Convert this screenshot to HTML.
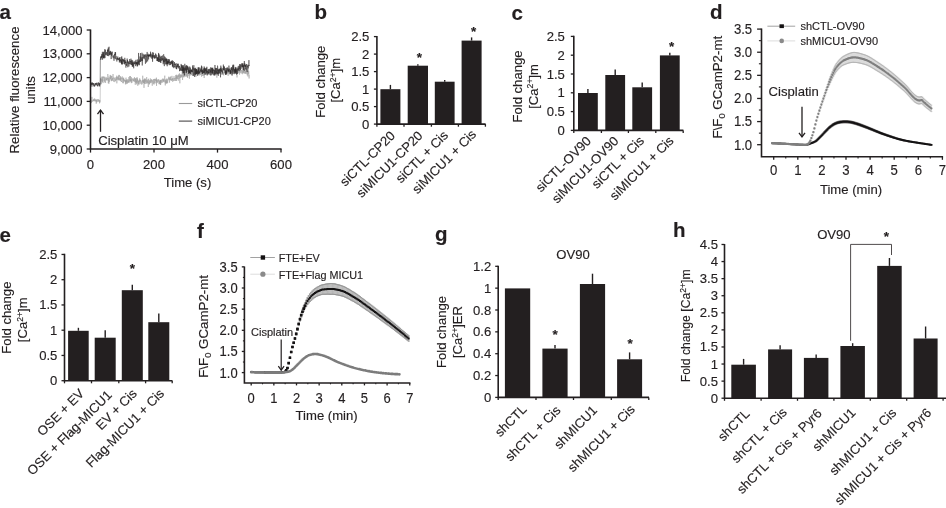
<!DOCTYPE html>
<html><head><meta charset="utf-8"><title>Figure</title>
<style>html,body{margin:0;padding:0;background:#fff}svg{display:block;will-change:transform}text{font-family:"Liberation Sans",sans-serif;fill:#231f20;stroke:#231f20;stroke-width:0.15px}</style></head><body>
<svg width="946" height="508" viewBox="0 0 946 508">
<rect width="946" height="508" fill="#fff"/>
<text x="-0.5" y="19" font-size="20.5" font-weight="bold">a</text>
<text x="314.5" y="18.6" font-size="20.5" font-weight="bold">b</text>
<text x="511.5" y="19.6" font-size="20.5" font-weight="bold">c</text>
<text x="710" y="18.7" font-size="20.5" font-weight="bold">d</text>
<text x="-0.5" y="241.6" font-size="20.5" font-weight="bold">e</text>
<text x="197" y="237.6" font-size="20.5" font-weight="bold">f</text>
<text x="435" y="240.8" font-size="20.5" font-weight="bold">g</text>
<text x="673" y="237" font-size="20.5" font-weight="bold">h</text>
<g id="pa">
<path d="M90.5 98.33 L90.66 103.44 L90.82 100.13 L90.98 101.23 L91.14 101.1 L91.29 100.84 L91.45 102.85 L91.61 100.86 L91.77 101.56 L91.93 96.9 L92.09 100.35 L92.25 100.99 L92.41 100.91 L92.56 101.34 L92.72 101.77 L92.88 101.03 L93.04 100.06 L93.2 100.87 L93.36 99.53 L93.52 100.82 L93.67 100.57 L93.83 98.88 L93.99 99.99 L94.15 101.16 L94.31 100.8 L94.47 100 L94.63 98.45 L94.79 100.9 L94.94 100.87 L95.1 99.48 L95.26 101.59 L95.42 100.92 L95.58 99.62 L95.74 99.95 L95.9 100.5 L96.06 99.85 L96.22 103.75 L96.37 99.46 L96.53 101.67 L96.69 102.46 L96.85 100.29 L97.01 99.82 L97.17 101.09 L97.33 101.8 L97.48 100.57 L97.64 100.66 L97.8 99.04 L97.96 99.77 L98.12 100.38 L98.28 99.36 L98.44 100.83 L98.6 101.63 L98.75 99.95 L98.91 99.95 L99.07 100.84 L99.23 101.47 L99.39 100.35 L99.55 103.37 L99.71 99.83 L99.87 100.05 L100.03 102.42 L100.18 100.53 L100.34 81.95 L100.5 78.44 L100.66 84.07 L100.82 81.78 L100.98 78.47 L101.14 77.55 L101.3 84.23 L101.45 80.85 L101.61 79.16 L101.77 81.03 L101.93 76.56 L102.09 82.17 L102.25 79.02 L102.41 81.84 L102.56 76.85 L102.72 79.72 L102.88 80.41 L103.04 83.12 L103.2 76.22 L103.36 78.08 L103.52 78.06 L103.68 77.26 L103.84 78.84 L103.99 80.82 L104.15 81.13 L104.31 81.12 L104.47 76.71 L104.63 82.42 L104.79 80.65 L104.95 80.08 L105.11 78.96 L105.26 78.24 L105.42 81.91 L105.58 82.87 L105.74 79.37 L105.9 76.89 L106.06 77.8 L106.22 78.88 L106.38 79.94 L106.53 78.69 L106.69 79.77 L106.85 77.61 L107.01 80.86 L107.17 78.97 L107.33 79.45 L107.49 78.12 L107.64 78.75 L107.8 74.03 L107.96 76.15 L108.12 76.14 L108.28 83.29 L108.44 79.84 L108.6 80.38 L108.76 78.06 L108.91 83.74 L109.07 76.74 L109.23 76.95 L109.39 81.74 L109.55 81.07 L109.71 80.71 L109.87 78.99 L110.03 77.78 L110.19 74.92 L110.34 79.46 L110.5 77.5 L110.66 78.73 L110.82 75.48 L110.98 77.54 L111.14 76.27 L111.3 81.21 L111.45 79.41 L111.61 80.67 L111.77 75.97 L111.93 77.68 L112.09 79.63 L112.25 79.92 L112.41 78.03 L112.57 80.42 L112.72 80.89 L112.88 78.03 L113.04 74.02 L113.2 79.5 L113.36 80.12 L113.52 81.37 L113.68 81.7 L113.84 77.94 L114 77.28 L114.15 78.99 L114.31 78.33 L114.47 78.78 L114.63 78.73 L114.79 82.11 L114.95 79.95 L115.11 78.8 L115.27 80.62 L115.42 80.01 L115.58 80.71 L115.74 79.73 L115.9 77.34 L116.06 79.9 L116.22 79.39 L116.38 77.44 L116.53 77.8 L116.69 75.68 L116.85 83.35 L117.01 77.4 L117.17 80.12 L117.33 78.88 L117.49 77.47 L117.65 76.99 L117.81 77.09 L117.96 78.89 L118.12 75.97 L118.28 79.81 L118.44 79.54 L118.6 77.65 L118.76 80.4 L118.92 74.92 L119.08 77.25 L119.23 74.93 L119.39 79.4 L119.55 80.14 L119.71 79.04 L119.87 77.91 L120.03 80.6 L120.19 78.66 L120.34 79.48 L120.5 76.2 L120.66 80.83 L120.82 77.39 L120.98 80.83 L121.14 81.49 L121.3 81 L121.46 81.99 L121.62 79.3 L121.77 77.53 L121.93 79.31 L122.09 78.4 L122.25 76.38 L122.41 79.16 L122.57 79.33 L122.73 80.3 L122.88 83.02 L123.04 78.25 L123.2 83.36 L123.36 78.51 L123.52 79.88 L123.68 77.59 L123.84 80.03 L124 81.58 L124.16 79.21 L124.31 81.09 L124.47 80.34 L124.63 79.91 L124.79 80.29 L124.95 80.42 L125.11 81.75 L125.27 80.47 L125.42 84.43 L125.58 80.44 L125.74 82.57 L125.9 77.9 L126.06 77.62 L126.22 84.16 L126.38 79.94 L126.54 80.51 L126.69 82.39 L126.85 79.22 L127.01 81.25 L127.17 83.91 L127.33 80.9 L127.49 80.68 L127.65 80.18 L127.81 82.91 L127.97 79.19 L128.12 78.97 L128.28 82.79 L128.44 81.83 L128.6 80.68 L128.76 81.68 L128.92 77.02 L129.08 80.15 L129.24 82.63 L129.39 82.2 L129.55 80.74 L129.71 76 L129.87 81.02 L130.03 80.42 L130.19 79.65 L130.35 80.79 L130.5 76.11 L130.66 81.81 L130.82 79.25 L130.98 80.44 L131.14 79.53 L131.3 83.18 L131.46 77.23 L131.62 81.07 L131.78 80.77 L131.93 82.74 L132.09 82.34 L132.25 79.73 L132.41 78.89 L132.57 79.37 L132.73 78.46 L132.89 79.47 L133.05 80.87 L133.2 79.25 L133.36 79.75 L133.52 81.17 L133.68 79.51 L133.84 78.39 L134 80.52 L134.16 81.73 L134.31 79.57 L134.47 77.19 L134.63 81.47 L134.79 81.24 L134.95 81.34 L135.11 78.6 L135.27 84.81 L135.43 80.36 L135.59 78.7 L135.74 82.77 L135.9 78.12 L136.06 80.06 L136.22 82.27 L136.38 80.76 L136.54 84.29 L136.7 82.34 L136.86 77.51 L137.01 83.02 L137.17 77.5 L137.33 81.4 L137.49 79.24 L137.65 81.17 L137.81 85.81 L137.97 82.44 L138.12 80.91 L138.28 83.64 L138.44 84.04 L138.6 80.59 L138.76 82.65 L138.92 84.78 L139.08 82.75 L139.24 79.63 L139.4 82.34 L139.55 79.51 L139.71 78.32 L139.87 81.35 L140.03 83.71 L140.19 84.07 L140.35 81.5 L140.51 79.68 L140.66 80.93 L140.82 80.37 L140.98 82.39 L141.14 80.89 L141.3 82.47 L141.46 82.18 L141.62 84.15 L141.78 84.72 L141.94 82.53 L142.09 83.8 L142.25 83.51 L142.41 80.22 L142.57 81.81 L142.73 75.71 L142.89 79.74 L143.05 82.9 L143.2 80.06 L143.36 80.92 L143.52 83.03 L143.68 79.43 L143.84 83.23 L144 87.86 L144.16 80.08 L144.32 82.94 L144.47 78.69 L144.63 83.02 L144.79 84.1 L144.95 78.59 L145.11 83.91 L145.27 81.33 L145.43 78.81 L145.59 81.52 L145.75 81.92 L145.9 81.56 L146.06 80.08 L146.22 83.41 L146.38 80.55 L146.54 80.63 L146.7 77.08 L146.86 82.49 L147.01 83.66 L147.17 80.33 L147.33 82.63 L147.49 81.24 L147.65 81.56 L147.81 79.47 L147.97 83.17 L148.13 82.03 L148.28 87.02 L148.44 83.66 L148.6 78.75 L148.76 83.24 L148.92 83.29 L149.08 84.34 L149.24 80.7 L149.4 81.52 L149.56 84.28 L149.71 80.53 L149.87 81.36 L150.03 80.36 L150.19 83.19 L150.35 78.38 L150.51 81.07 L150.67 82.13 L150.82 82.95 L150.98 82.39 L151.14 80.16 L151.3 82.44 L151.46 79.72 L151.62 80.73 L151.78 79.18 L151.94 80.25 L152.09 82.03 L152.25 85.76 L152.41 81.29 L152.57 80.3 L152.73 81.56 L152.89 80.76 L153.05 82.84 L153.21 82.65 L153.37 83.78 L153.52 79.12 L153.68 81.55 L153.84 82.86 L154 84.55 L154.16 82.16 L154.32 78.93 L154.48 80.91 L154.63 83.3 L154.79 78.94 L154.95 78.93 L155.11 79.83 L155.27 80.21 L155.43 79.46 L155.59 80.69 L155.75 80.21 L155.91 83.35 L156.06 78.73 L156.22 81.29 L156.38 77.65 L156.54 85.87 L156.7 80.3 L156.86 79.73 L157.02 82.4 L157.18 80.78 L157.33 80.17 L157.49 80.5 L157.65 82.75 L157.81 81.93 L157.97 79.57 L158.13 79.04 L158.29 81.41 L158.44 81.44 L158.6 81.17 L158.76 79.47 L158.92 83.68 L159.08 84.23 L159.24 81.27 L159.4 83.75 L159.56 82.68 L159.72 81.3 L159.87 80.49 L160.03 83.62 L160.19 79.81 L160.35 85 L160.51 80.29 L160.67 84.57 L160.83 83.94 L160.99 80.05 L161.14 82.15 L161.3 82.92 L161.46 82.19 L161.62 80.34 L161.78 81.37 L161.94 81.3 L162.1 79.09 L162.25 82.65 L162.41 82.14 L162.57 82.22 L162.73 78.78 L162.89 79.12 L163.05 78.5 L163.21 81.15 L163.37 81.38 L163.53 79.32 L163.68 81.82 L163.84 79.32 L164 79.52 L164.16 82.38 L164.32 81.11 L164.48 81.16 L164.64 77.39 L164.8 75.64 L164.95 81.06 L165.11 80.81 L165.27 85.43 L165.43 80.36 L165.59 80.78 L165.75 82.91 L165.91 79.13 L166.06 83.87 L166.22 81.11 L166.38 80.37 L166.54 83.16 L166.7 78.87 L166.86 78.45 L167.02 83.36 L167.18 83.38 L167.34 79.29 L167.49 80.55 L167.65 82.91 L167.81 81.04 L167.97 80.63 L168.13 80.68 L168.29 78.69 L168.45 79.56 L168.61 76.74 L168.76 77.51 L168.92 78.9 L169.08 78.06 L169.24 77.54 L169.4 78.76 L169.56 82.65 L169.72 78.4 L169.88 79.97 L170.03 76.82 L170.19 79.88 L170.35 78.98 L170.51 79.35 L170.67 76.59 L170.83 79.6 L170.99 80.48 L171.14 79.28 L171.3 80.76 L171.46 79.5 L171.62 79.81 L171.78 79.21 L171.94 75.83 L172.1 80.5 L172.26 79.56 L172.42 79.99 L172.57 78.18 L172.73 81.88 L172.89 80.85 L173.05 79.48 L173.21 78.24 L173.37 79.38 L173.53 80.25 L173.69 80.94 L173.84 78.09 L174 76.15 L174.16 78.36 L174.32 78.57 L174.48 77.99 L174.64 80.74 L174.8 79.4 L174.95 79.25 L175.11 78.04 L175.27 78.64 L175.43 80.97 L175.59 76.17 L175.75 74.95 L175.91 78.84 L176.07 77.44 L176.22 77.63 L176.38 76.52 L176.54 81.03 L176.7 74.71 L176.86 78.85 L177.02 75.27 L177.18 77.6 L177.34 78.48 L177.5 77.9 L177.65 75.73 L177.81 79.23 L177.97 78.17 L178.13 78.31 L178.29 80.74 L178.45 74.57 L178.61 75.96 L178.76 77.1 L178.92 74.64 L179.08 78.86 L179.24 77 L179.4 73.29 L179.56 74.73 L179.72 81.15 L179.88 83.32 L180.03 78.62 L180.19 74.3 L180.35 77.34 L180.51 76.76 L180.67 75.03 L180.83 77.99 L180.99 75.7 L181.15 74.47 L181.31 75.07 L181.46 75.15 L181.62 77.11 L181.78 74.8 L181.94 76.65 L182.1 73.09 L182.26 70.47 L182.42 77.12 L182.57 79.97 L182.73 76.38 L182.89 74.71 L183.05 73.3 L183.21 73.2 L183.37 76.92 L183.53 76.9 L183.69 72.69 L183.84 77.42 L184 72.97 L184.16 75.6 L184.32 73.55 L184.48 73.63 L184.64 73.45 L184.8 73.33 L184.96 76.95 L185.12 74.31 L185.27 74.85 L185.43 74.21 L185.59 72.31 L185.75 75.31 L185.91 76.17 L186.07 76.16 L186.23 75.28 L186.38 73.1 L186.54 76.23 L186.7 72.2 L186.86 73.92 L187.02 74.93 L187.18 77.13 L187.34 73.91 L187.5 72.97 L187.66 77.91 L187.81 71.89 L187.97 70.93 L188.13 73.55 L188.29 73.2 L188.45 69.28 L188.61 71.64 L188.77 75.91 L188.93 74.09 L189.08 74.34 L189.24 74.3 L189.4 78.74 L189.56 72.4 L189.72 75.18 L189.88 73.53 L190.04 74.11 L190.19 72.04 L190.35 74.37 L190.51 75.35 L190.67 72.63 L190.83 70.83 L190.99 74.29 L191.15 70.84 L191.31 73.05 L191.47 74.63 L191.62 70.44 L191.78 75.15 L191.94 71.42 L192.1 74.45 L192.26 72.5 L192.42 75.88 L192.58 75.05 L192.74 71.17 L192.89 72.92 L193.05 73.19 L193.21 74.14 L193.37 72.32 L193.53 76.02 L193.69 75.43 L193.85 73.46 L194 74.8 L194.16 74.51 L194.32 73.21 L194.48 73.32 L194.64 73.47 L194.8 69.63 L194.96 70.93 L195.12 70.46 L195.28 72.99 L195.43 73.93 L195.59 75.83 L195.75 73.57 L195.91 77.06 L196.07 74 L196.23 71.26 L196.39 69.5 L196.55 70.81 L196.7 74.49 L196.86 71.73 L197.02 74.3 L197.18 71.02 L197.34 72.9 L197.5 70.92 L197.66 67.43 L197.81 70.76 L197.97 67.89 L198.13 72.23 L198.29 73.24 L198.45 69.86 L198.61 69.06 L198.77 73.66 L198.93 72.37 L199.09 75.41 L199.24 72.9 L199.4 70.69 L199.56 72.65 L199.72 73.61 L199.88 75.3 L200.04 71.69 L200.2 70.81 L200.36 71.21 L200.51 71.89 L200.67 74.97 L200.83 68.82 L200.99 72.48 L201.15 72.65 L201.31 70.86 L201.47 76.71 L201.62 72.45 L201.78 72.59 L201.94 71.55 L202.1 69.57 L202.26 71.33 L202.42 75.98 L202.58 72.95 L202.74 71.83 L202.89 71.94 L203.05 74.82 L203.21 75.58 L203.37 71.1 L203.53 71.5 L203.69 72.23 L203.85 75.67 L204.01 68.58 L204.17 78.02 L204.32 72.88 L204.48 67.91 L204.64 72.45 L204.8 71.65 L204.96 74.5 L205.12 69.35 L205.28 74.71 L205.44 71.57 L205.59 71.8 L205.75 74.19 L205.91 70.26 L206.07 74.91 L206.23 73.42 L206.39 72.09 L206.55 72.85 L206.7 71.06 L206.86 70.13 L207.02 72.59 L207.18 73.08 L207.34 73.02 L207.5 72.71 L207.66 70.32 L207.82 72.39 L207.98 71.12 L208.13 72.12 L208.29 73.64 L208.45 70.17 L208.61 74.01 L208.77 71.89 L208.93 68.89 L209.09 74.1 L209.25 72 L209.4 75.08 L209.56 72.9 L209.72 74.89 L209.88 72.59 L210.04 72.94 L210.2 71.57 L210.36 68.63 L210.51 71.26 L210.67 70.49 L210.83 71.92 L210.99 72.3 L211.15 73.49 L211.31 75.44 L211.47 71.65 L211.63 68.49 L211.78 70.81 L211.94 72.85 L212.1 68.43 L212.26 72.64 L212.42 73.01 L212.58 74.2 L212.74 73.69 L212.9 72.24 L213.06 67.69 L213.21 72.14 L213.37 73.81 L213.53 72.94 L213.69 72.16 L213.85 75.17 L214.01 71.44 L214.17 70.28 L214.32 71.04 L214.48 70.47 L214.64 74.29 L214.8 75.11 L214.96 69.07 L215.12 69.45 L215.28 74.78 L215.44 71.24 L215.59 71.6 L215.75 70.55 L215.91 71.23 L216.07 72.66 L216.23 71.25 L216.39 71.32 L216.55 71.73 L216.71 75.38 L216.87 77.69 L217.02 73.22 L217.18 74.93 L217.34 71.11 L217.5 70.16 L217.66 71.08 L217.82 72.35 L217.98 71.46 L218.13 69.24 L218.29 73.07 L218.45 69.73 L218.61 70.16 L218.77 71.06 L218.93 68.65 L219.09 73.04 L219.25 69.68 L219.41 73.46 L219.56 73.13 L219.72 73.72 L219.88 70.67 L220.04 73.47 L220.2 71.46 L220.36 73.86 L220.52 69.4 L220.68 67.84 L220.83 71.1 L220.99 68.23 L221.15 70.42 L221.31 67.16 L221.47 71.34 L221.63 74.72 L221.79 68.53 L221.94 71.79 L222.1 73.63 L222.26 72.86 L222.42 74.82 L222.58 71.87 L222.74 73.69 L222.9 68.52 L223.06 70.18 L223.22 74.88 L223.37 74.57 L223.53 72.66 L223.69 75.41 L223.85 71.73 L224.01 71.6 L224.17 73.07 L224.33 72.61 L224.49 70.49 L224.64 68.62 L224.8 68.47 L224.96 71.42 L225.12 69.76 L225.28 72.98 L225.44 70.65 L225.6 73.43 L225.75 70.01 L225.91 73.99 L226.07 73.43 L226.23 71.49 L226.39 70.35 L226.55 74.38 L226.71 72.56 L226.87 71.2 L227.03 71 L227.18 73.16 L227.34 71.27 L227.5 72 L227.66 68.62 L227.82 70.33 L227.98 74.13 L228.14 75.91 L228.3 71.25 L228.45 69.06 L228.61 71.1 L228.77 69.66 L228.93 72.43 L229.09 74.2 L229.25 69.93 L229.41 71.24 L229.56 70.06 L229.72 74.23 L229.88 71.07 L230.04 72.7 L230.2 69.8 L230.36 72.61 L230.52 72.66 L230.68 72.61 L230.84 68.87 L230.99 71.37 L231.15 72.96 L231.31 73.49 L231.47 73.54 L231.63 68.46 L231.79 75.09 L231.95 73.14 L232.1 70.13 L232.26 69.03 L232.42 71.72 L232.58 69.83 L232.74 69.88 L232.9 69.42 L233.06 71.32 L233.22 68.06 L233.38 70.97 L233.53 68.28 L233.69 73.6 L233.85 69.46 L234.01 73.91 L234.17 74.39 L234.33 70.34 L234.49 73.02 L234.65 70.44 L234.8 73.51 L234.96 68.09 L235.12 71.31 L235.28 73.62 L235.44 70.97 L235.6 69.53 L235.76 72.87 L235.91 70.26 L236.07 67.17 L236.23 69.55 L236.39 71.32 L236.55 72.45 L236.71 70.13 L236.87 74.36 L237.03 77.44 L237.19 72.64 L237.34 73.48 L237.5 67.76 L237.66 71.01 L237.82 73.28 L237.98 73.64 L238.14 70.28 L238.3 72.98 L238.46 72.48 L238.61 71.49 L238.77 71.13 L238.93 71.12 L239.09 71.09 L239.25 68.69 L239.41 67.89 L239.57 74.68 L239.72 66.13 L239.88 71.09 L240.04 68.85 L240.2 72.87 L240.36 70.73 L240.52 70.96 L240.68 71.18 L240.84 69.7 L241 70.16 L241.15 73.48 L241.31 71.7 L241.47 70.01 L241.63 70.11 L241.79 72.19 L241.95 72.1 L242.11 71.86 L242.27 73.8 L242.42 74.19 L242.58 68.43 L242.74 72.42 L242.9 71.45 L243.06 73.17 L243.22 69.06 L243.38 68.16 L243.53 72.17 L243.69 70.7 L243.85 73.29 L244.01 68.22 L244.17 69.94 L244.33 73.53 L244.49 69.33 L244.65 71.15 L244.81 71.06 L244.96 71.2 L245.12 73.3 L245.28 73.06 L245.44 70.74 L245.6 72.12 L245.76 73.97 L245.92 67.96 L246.07 72.52 L246.23 73.26 L246.39 73.56 L246.55 70.78 L246.71 70.23 L246.87 71.73 L247.03 70.5 L247.19 75.32 L247.34 73.06 L247.5 73.29 L247.66 72.35 L247.82 71.4 L247.98 76.54 L248.14 66.12 L248.3 74.23 L248.46 71.8 L248.62 70.85 L248.77 70.83 L248.93 72.1 L249.09 78.5 L249.25 74.84" fill="none" stroke="#9c9c9c" stroke-width="0.5" stroke-linejoin="round"/>
<path d="M90.5 84.16 L90.66 82.42 L90.82 82.6 L90.98 84.87 L91.14 84.59 L91.29 84.89 L91.45 83.45 L91.61 84.27 L91.77 83.22 L91.93 86.62 L92.09 82.15 L92.25 84.33 L92.41 83.31 L92.56 84.38 L92.72 84.7 L92.88 83.59 L93.04 83.12 L93.2 84.47 L93.36 84.4 L93.52 83.3 L93.67 85.34 L93.83 86.18 L93.99 83.68 L94.15 85.08 L94.31 86.71 L94.47 85.27 L94.63 84.81 L94.79 85.76 L94.94 86.15 L95.1 84.15 L95.26 83.03 L95.42 84.51 L95.58 85.17 L95.74 83.7 L95.9 83.26 L96.06 84.59 L96.22 83.49 L96.37 82.83 L96.53 84.47 L96.69 85.26 L96.85 83.74 L97.01 83.88 L97.17 82.76 L97.33 85.88 L97.48 85.07 L97.64 85.3 L97.8 86.47 L97.96 84.03 L98.12 83.51 L98.28 85.17 L98.44 82.39 L98.6 83.12 L98.75 83.38 L98.91 83.67 L99.07 82.95 L99.23 85.94 L99.39 83.4 L99.55 83.41 L99.71 86.51 L99.87 83.75 L100.03 84.53 L100.18 83.18 L100.34 59.54 L100.5 58.34 L100.66 57.27 L100.82 59.97 L100.98 56.25 L101.14 57.73 L101.3 56.11 L101.45 58.33 L101.61 54.32 L101.77 55.28 L101.93 56.98 L102.09 54.88 L102.25 53.23 L102.41 51.82 L102.56 59.69 L102.72 53.7 L102.88 54.56 L103.04 55.75 L103.2 57.78 L103.36 52.25 L103.52 58.1 L103.68 53.61 L103.84 51.72 L103.99 58.49 L104.15 55.26 L104.31 57.52 L104.47 53.69 L104.63 50.54 L104.79 49.19 L104.95 58.12 L105.11 55.13 L105.26 51.97 L105.42 49.77 L105.58 52.42 L105.74 55.1 L105.9 52.52 L106.06 53.17 L106.22 53.53 L106.38 54.71 L106.53 51.97 L106.69 52.09 L106.85 52.99 L107.01 53.25 L107.17 55.73 L107.33 53.8 L107.49 49.75 L107.64 53.06 L107.8 56.03 L107.96 49.43 L108.12 51.35 L108.28 47.62 L108.44 52.51 L108.6 53.8 L108.76 56.18 L108.91 49.64 L109.07 46.72 L109.23 54.85 L109.39 54.51 L109.55 51.62 L109.71 55.09 L109.87 53.84 L110.03 54.11 L110.19 52.92 L110.34 50.86 L110.5 53.51 L110.66 51.48 L110.82 54.77 L110.98 53.1 L111.14 59.08 L111.3 57.56 L111.45 52.33 L111.61 55.75 L111.77 53.08 L111.93 53.3 L112.09 51.56 L112.25 52.9 L112.41 52.54 L112.57 55.35 L112.72 56.87 L112.88 57.08 L113.04 56.62 L113.2 58.27 L113.36 57.01 L113.52 56.05 L113.68 55.35 L113.84 56.88 L114 60.77 L114.15 56.47 L114.31 55.88 L114.47 53.94 L114.63 55.26 L114.79 58.27 L114.95 58.56 L115.11 52.15 L115.27 55.22 L115.42 52.75 L115.58 52.13 L115.74 59.23 L115.9 56.46 L116.06 56.37 L116.22 56.22 L116.38 56.35 L116.53 57.25 L116.69 57.41 L116.85 61.49 L117.01 58.4 L117.17 59.87 L117.33 57.88 L117.49 59.39 L117.65 56.9 L117.81 56.51 L117.96 57.82 L118.12 57.89 L118.28 58.51 L118.44 59.89 L118.6 59.31 L118.76 60.18 L118.92 58.17 L119.08 59.15 L119.23 57.89 L119.39 62.53 L119.55 57.34 L119.71 61.36 L119.87 61.38 L120.03 60.19 L120.19 61.14 L120.34 59.2 L120.5 61.34 L120.66 62.6 L120.82 62.15 L120.98 57.1 L121.14 60.2 L121.3 63.17 L121.46 60.45 L121.62 64.25 L121.77 56.36 L121.93 64.33 L122.09 59.64 L122.25 59.56 L122.41 64.37 L122.57 60.28 L122.73 58.69 L122.88 60.02 L123.04 60.58 L123.2 59.01 L123.36 60.95 L123.52 60.59 L123.68 61.76 L123.84 60.01 L124 63.82 L124.16 59.75 L124.31 62.89 L124.47 64.33 L124.63 60.92 L124.79 57.81 L124.95 59.6 L125.11 63.16 L125.27 60.31 L125.42 63.1 L125.58 62.36 L125.74 61.9 L125.9 67.67 L126.06 61.75 L126.22 64.7 L126.38 63.96 L126.54 65.85 L126.69 66 L126.85 64.68 L127.01 60.51 L127.17 58.56 L127.33 62.63 L127.49 60.01 L127.65 63.28 L127.81 67.25 L127.97 62.38 L128.12 61.72 L128.28 63.85 L128.44 62.15 L128.6 61.55 L128.76 65 L128.92 66.5 L129.08 63.56 L129.24 63.57 L129.39 63.95 L129.55 60.79 L129.71 59.07 L129.87 64.21 L130.03 61.59 L130.19 61.05 L130.35 61.62 L130.5 60.86 L130.66 64.31 L130.82 61.65 L130.98 58.63 L131.14 61.56 L131.3 64.98 L131.46 62.08 L131.62 60.55 L131.78 62.7 L131.93 64.94 L132.09 59.95 L132.25 66.62 L132.41 62.47 L132.57 63.72 L132.73 66.54 L132.89 60.82 L133.05 62.91 L133.2 66.52 L133.36 62.33 L133.52 64.8 L133.68 68.31 L133.84 65.43 L134 63.16 L134.16 62.28 L134.31 63.4 L134.47 63.69 L134.63 62.68 L134.79 64.29 L134.95 60.96 L135.11 63.38 L135.27 63 L135.43 62.36 L135.59 66.11 L135.74 65.22 L135.9 59.83 L136.06 62.59 L136.22 63.98 L136.38 62.41 L136.54 64.28 L136.7 62.37 L136.86 64.52 L137.01 62.17 L137.17 66.47 L137.33 59.43 L137.49 63.7 L137.65 66.12 L137.81 62.77 L137.97 62.99 L138.12 61.61 L138.28 64.57 L138.44 60.77 L138.6 52.95 L138.76 64.48 L138.92 60.5 L139.08 61.91 L139.24 60.57 L139.4 65.21 L139.55 63.5 L139.71 59.53 L139.87 60.58 L140.03 56.47 L140.19 61.91 L140.35 59.69 L140.51 53.05 L140.66 61.68 L140.82 61.89 L140.98 59.71 L141.14 59.62 L141.3 57.4 L141.46 59 L141.62 61.01 L141.78 58.62 L141.94 52.75 L142.09 55.93 L142.25 65.49 L142.41 59.13 L142.57 60.79 L142.73 57.14 L142.89 58.94 L143.05 53.84 L143.2 56.14 L143.36 56.15 L143.52 57.74 L143.68 58.19 L143.84 57.19 L144 54.83 L144.16 56.55 L144.32 58.57 L144.47 54.61 L144.63 57.1 L144.79 57.66 L144.95 59.27 L145.11 58.65 L145.27 58.73 L145.43 63.78 L145.59 54.63 L145.75 55.62 L145.9 57.4 L146.06 54.32 L146.22 55.69 L146.38 55.78 L146.54 62.48 L146.7 57.07 L146.86 55.19 L147.01 52.56 L147.17 51.95 L147.33 52.87 L147.49 58.98 L147.65 61.39 L147.81 54.75 L147.97 55.99 L148.13 53.73 L148.28 56.28 L148.44 55.42 L148.6 59.48 L148.76 54.81 L148.92 56.91 L149.08 55 L149.24 54.73 L149.4 56.09 L149.56 55.05 L149.71 55.83 L149.87 53.99 L150.03 54.61 L150.19 57.11 L150.35 57.22 L150.51 51.68 L150.67 56.08 L150.82 53.49 L150.98 54.93 L151.14 57.23 L151.3 57.69 L151.46 55.64 L151.62 55.34 L151.78 54.52 L151.94 59.02 L152.09 57.45 L152.25 56.29 L152.41 52.28 L152.57 61.74 L152.73 55.12 L152.89 57.48 L153.05 55.21 L153.21 57.45 L153.37 55.45 L153.52 52.63 L153.68 55.56 L153.84 55.41 L154 55.6 L154.16 58.32 L154.32 55.29 L154.48 57.12 L154.63 58.61 L154.79 56.82 L154.95 57.32 L155.11 55.04 L155.27 56.99 L155.43 58.2 L155.59 53.53 L155.75 54.69 L155.91 54.08 L156.06 55.71 L156.22 57.48 L156.38 58.27 L156.54 57.99 L156.7 55.13 L156.86 57.18 L157.02 61.03 L157.18 57.66 L157.33 60.99 L157.49 57.29 L157.65 60.61 L157.81 60.81 L157.97 57.58 L158.13 58.11 L158.29 61.94 L158.44 56.26 L158.6 52.95 L158.76 61.69 L158.92 53.89 L159.08 59.92 L159.24 59.52 L159.4 58.82 L159.56 61.9 L159.72 55.42 L159.87 57.4 L160.03 60.42 L160.19 59.35 L160.35 62.35 L160.51 59.63 L160.67 56.63 L160.83 62.99 L160.99 60 L161.14 58.67 L161.3 56.57 L161.46 55.91 L161.62 60.26 L161.78 60.99 L161.94 58.21 L162.1 60.2 L162.25 60.13 L162.41 56.88 L162.57 55.49 L162.73 58.93 L162.89 60.08 L163.05 58.32 L163.21 64.23 L163.37 59.84 L163.53 62.38 L163.68 54.23 L163.84 58.26 L164 59.7 L164.16 60.56 L164.32 66.14 L164.48 58.52 L164.64 56.4 L164.8 62.08 L164.95 58.78 L165.11 58.75 L165.27 64.22 L165.43 58.37 L165.59 57.43 L165.75 60.18 L165.91 60.94 L166.06 58.98 L166.22 64.58 L166.38 60.76 L166.54 58.54 L166.7 64.07 L166.86 58.82 L167.02 62.24 L167.18 66.26 L167.34 61.63 L167.49 63.76 L167.65 60.75 L167.81 64.37 L167.97 59.15 L168.13 63.47 L168.29 60.94 L168.45 63.27 L168.61 62.69 L168.76 59.15 L168.92 61.55 L169.08 63.07 L169.24 65.18 L169.4 59.51 L169.56 60.59 L169.72 63.18 L169.88 61.9 L170.03 65 L170.19 65.03 L170.35 64.66 L170.51 61.92 L170.67 62.13 L170.83 64.68 L170.99 61.22 L171.14 61.18 L171.3 62.72 L171.46 60.73 L171.62 63.97 L171.78 63.63 L171.94 62.31 L172.1 63.6 L172.26 61.71 L172.42 66.67 L172.57 60.37 L172.73 65.71 L172.89 64.33 L173.05 67.3 L173.21 62.68 L173.37 61.16 L173.53 61.73 L173.69 62.38 L173.84 68.16 L174 66.4 L174.16 65.73 L174.32 66.94 L174.48 62.13 L174.64 64.45 L174.8 65.04 L174.95 63.91 L175.11 67.42 L175.27 67.41 L175.43 67.43 L175.59 64.24 L175.75 64.69 L175.91 64.22 L176.07 63.12 L176.22 69 L176.38 67.19 L176.54 65.59 L176.7 69.23 L176.86 67.37 L177.02 63.78 L177.18 63.65 L177.34 63.79 L177.5 66.33 L177.65 67.02 L177.81 64.03 L177.97 67.56 L178.13 65.95 L178.29 63.67 L178.45 67.78 L178.61 68.43 L178.76 67.07 L178.92 65.69 L179.08 66.04 L179.24 66.89 L179.4 66 L179.56 71.2 L179.72 69.5 L179.88 67.13 L180.03 69.79 L180.19 70.83 L180.35 70.57 L180.51 69.94 L180.67 68.24 L180.83 70.3 L180.99 67.37 L181.15 63.95 L181.31 68.4 L181.46 65.07 L181.62 67.47 L181.78 70.88 L181.94 68.89 L182.1 70.67 L182.26 66.56 L182.42 71.19 L182.57 65.35 L182.73 67.18 L182.89 73.43 L183.05 66.8 L183.21 65.03 L183.37 70.66 L183.53 66.49 L183.69 73.16 L183.84 68.34 L184 72.94 L184.16 67.89 L184.32 73.35 L184.48 75.41 L184.64 68.25 L184.8 63.8 L184.96 70.71 L185.12 67.36 L185.27 69.13 L185.43 70.21 L185.59 68.02 L185.75 65.62 L185.91 72.51 L186.07 68.28 L186.23 68.84 L186.38 73.1 L186.54 65.91 L186.7 65.15 L186.86 72.1 L187.02 65.74 L187.18 69.78 L187.34 70.34 L187.5 66.41 L187.66 69.48 L187.81 69.29 L187.97 66.48 L188.13 67.06 L188.29 68.04 L188.45 73.53 L188.61 73.97 L188.77 67.58 L188.93 72.49 L189.08 69.96 L189.24 72.9 L189.4 70.81 L189.56 73.44 L189.72 66.54 L189.88 72.87 L190.04 70.76 L190.19 70.94 L190.35 67.65 L190.51 73.92 L190.67 70.64 L190.83 71.09 L190.99 69.35 L191.15 69.51 L191.31 71.76 L191.47 70.11 L191.62 71.6 L191.78 69.62 L191.94 71 L192.1 72.34 L192.26 70.87 L192.42 69.96 L192.58 65.45 L192.74 72.04 L192.89 70.16 L193.05 67.43 L193.21 75.88 L193.37 75.1 L193.53 73.81 L193.69 71.27 L193.85 65.21 L194 70.11 L194.16 68.18 L194.32 71.6 L194.48 76.96 L194.64 76.62 L194.8 68.71 L194.96 70.71 L195.12 74.26 L195.28 68.52 L195.43 74.86 L195.59 68.51 L195.75 67.77 L195.91 73.06 L196.07 73.89 L196.23 69.26 L196.39 73.89 L196.55 69.24 L196.7 74.15 L196.86 69.4 L197.02 71.1 L197.18 72.37 L197.34 73.48 L197.5 70.79 L197.66 75.87 L197.81 72.03 L197.97 72.32 L198.13 69.77 L198.29 74.37 L198.45 67.31 L198.61 72.14 L198.77 74.11 L198.93 68.1 L199.09 67.44 L199.24 71.85 L199.4 73.52 L199.56 71.36 L199.72 73.04 L199.88 72.14 L200.04 67.69 L200.2 70.46 L200.36 71.05 L200.51 70.57 L200.67 71.53 L200.83 69.39 L200.99 69.3 L201.15 72.27 L201.31 71.13 L201.47 65.64 L201.62 70.37 L201.78 71.82 L201.94 66.49 L202.1 71.35 L202.26 73.98 L202.42 69.76 L202.58 73.5 L202.74 72.54 L202.89 70.57 L203.05 71.65 L203.21 73.16 L203.37 72.65 L203.53 72.75 L203.69 68.55 L203.85 73.04 L204.01 72.68 L204.17 66.46 L204.32 72.63 L204.48 67.76 L204.64 68.17 L204.8 71.66 L204.96 74.67 L205.12 70.21 L205.28 69.68 L205.44 68.97 L205.59 71.1 L205.75 68.4 L205.91 67.95 L206.07 73.76 L206.23 67.84 L206.39 70.82 L206.55 72.58 L206.7 71.98 L206.86 66.75 L207.02 68.87 L207.18 75.46 L207.34 71 L207.5 71.53 L207.66 71.61 L207.82 72.4 L207.98 74.64 L208.13 69.12 L208.29 73.4 L208.45 72.03 L208.61 72.58 L208.77 72.87 L208.93 69.36 L209.09 70.21 L209.25 72.72 L209.4 73.36 L209.56 72.22 L209.72 68.8 L209.88 70.79 L210.04 70.53 L210.2 71.86 L210.36 71.69 L210.51 70.55 L210.67 75.45 L210.83 67.21 L210.99 72.92 L211.15 72.39 L211.31 67.85 L211.47 70.49 L211.63 70.92 L211.78 72.4 L211.94 74.72 L212.1 70.56 L212.26 68.15 L212.42 73.13 L212.58 67.73 L212.74 73.65 L212.9 72.71 L213.06 69.75 L213.21 70.95 L213.37 69.3 L213.53 72.7 L213.69 73.39 L213.85 75.37 L214.01 73.79 L214.17 73.48 L214.32 74.31 L214.48 70.17 L214.64 72.48 L214.8 75.62 L214.96 64.98 L215.12 72.87 L215.28 73.86 L215.44 67.92 L215.59 68.09 L215.75 73.6 L215.91 74.36 L216.07 73.23 L216.23 68.16 L216.39 71.58 L216.55 72.76 L216.71 70.9 L216.87 67.96 L217.02 74.13 L217.18 71.74 L217.34 74.11 L217.5 65.64 L217.66 66.48 L217.82 68.54 L217.98 71.12 L218.13 69.23 L218.29 75.8 L218.45 70.14 L218.61 73.97 L218.77 73.94 L218.93 72.46 L219.09 71.62 L219.25 69.42 L219.41 69.11 L219.56 70.15 L219.72 73.02 L219.88 69.16 L220.04 71.06 L220.2 67.96 L220.36 72.95 L220.52 77.34 L220.68 71.9 L220.83 65.64 L220.99 69.64 L221.15 71.22 L221.31 68.65 L221.47 69.56 L221.63 69.66 L221.79 71.97 L221.94 70.57 L222.1 70.27 L222.26 72.28 L222.42 73.41 L222.58 70.41 L222.74 68.44 L222.9 69.2 L223.06 69.57 L223.22 69.54 L223.37 64.59 L223.53 70.12 L223.69 68.26 L223.85 66.08 L224.01 70.61 L224.17 70.1 L224.33 68.25 L224.49 66.71 L224.64 69.98 L224.8 69.86 L224.96 70.51 L225.12 73.59 L225.28 68.06 L225.44 71.32 L225.6 74.81 L225.75 71.06 L225.91 74.83 L226.07 73.11 L226.23 70.67 L226.39 72.9 L226.55 68.15 L226.71 74.2 L226.87 70.07 L227.03 69.37 L227.18 67.22 L227.34 68.49 L227.5 70.13 L227.66 70.49 L227.82 70.82 L227.98 67.97 L228.14 72.24 L228.3 69.43 L228.45 70.89 L228.61 70.1 L228.77 71.29 L228.93 65.58 L229.09 72.23 L229.25 70.06 L229.41 70 L229.56 69.21 L229.72 69.58 L229.88 69.64 L230.04 68.31 L230.2 74.22 L230.36 70.62 L230.52 73.57 L230.68 70.08 L230.84 73.45 L230.99 72.91 L231.15 70.77 L231.31 67.3 L231.47 69.24 L231.63 69.91 L231.79 67.27 L231.95 72.86 L232.1 75.58 L232.26 71.61 L232.42 71.26 L232.58 67.65 L232.74 65.49 L232.9 73.75 L233.06 64.68 L233.22 66.85 L233.38 68.57 L233.53 69.68 L233.69 64.77 L233.85 70.33 L234.01 71.63 L234.17 70.13 L234.33 73.68 L234.49 69.26 L234.65 70.59 L234.8 69.48 L234.96 69.35 L235.12 72.67 L235.28 66.94 L235.44 72.42 L235.6 67.81 L235.76 73.63 L235.91 68.87 L236.07 71.62 L236.23 69.48 L236.39 71.04 L236.55 74.59 L236.71 71.95 L236.87 69.03 L237.03 67.61 L237.19 72.49 L237.34 73.95 L237.5 70.86 L237.66 69.19 L237.82 70.09 L237.98 70.41 L238.14 66.36 L238.3 65.98 L238.46 66.41 L238.61 70.31 L238.77 67.8 L238.93 68.35 L239.09 71.2 L239.25 65.61 L239.41 67.41 L239.57 68.69 L239.72 64.08 L239.88 65.56 L240.04 65.27 L240.2 64.38 L240.36 65.47 L240.52 70.13 L240.68 67.98 L240.84 64.62 L241 68.8 L241.15 66.84 L241.31 65.94 L241.47 63.41 L241.63 63.71 L241.79 64.62 L241.95 67.17 L242.11 64.5 L242.27 65.39 L242.42 66.99 L242.58 63.33 L242.74 65.35 L242.9 68.29 L243.06 63.43 L243.22 67.02 L243.38 64.96 L243.53 69.96 L243.69 66.35 L243.85 68.52 L244.01 68.54 L244.17 70.74 L244.33 61.06 L244.49 66.48 L244.65 65.53 L244.81 63.42 L244.96 66.32 L245.12 64.77 L245.28 69.2 L245.44 65.47 L245.6 66.89 L245.76 64.69 L245.92 65.42 L246.07 69.12 L246.23 70.2 L246.39 68.19 L246.55 63.99 L246.71 64.71 L246.87 64.74 L247.03 70.49 L247.19 72.06 L247.34 67.12 L247.5 66.41 L247.66 67.04 L247.82 64.75 L247.98 65.98 L248.14 68.38 L248.3 67.64 L248.46 65.2 L248.62 65.35 L248.77 65.69 L248.93 60.11 L249.09 66.13 L249.25 65.21" fill="none" stroke="#2a2627" stroke-width="0.5" stroke-linejoin="round"/>
<path d="M90.5 29.4 V149 H281.6" fill="none" stroke="#231f20" stroke-width="1.6"/>
<line x1="86.7" y1="149" x2="90.5" y2="149" stroke="#231f20" stroke-width="1.3"/>
<text x="82.6" y="153.5" font-size="13.1" text-anchor="end">9,000</text>
<line x1="86.7" y1="125.2" x2="90.5" y2="125.2" stroke="#231f20" stroke-width="1.3"/>
<text x="82.6" y="129.7" font-size="13.1" text-anchor="end">10,000</text>
<line x1="86.7" y1="101.4" x2="90.5" y2="101.4" stroke="#231f20" stroke-width="1.3"/>
<text x="82.6" y="105.9" font-size="13.1" text-anchor="end">11,000</text>
<line x1="86.7" y1="77.6" x2="90.5" y2="77.6" stroke="#231f20" stroke-width="1.3"/>
<text x="82.6" y="82.1" font-size="13.1" text-anchor="end">12,000</text>
<line x1="86.7" y1="53.8" x2="90.5" y2="53.8" stroke="#231f20" stroke-width="1.3"/>
<text x="82.6" y="58.3" font-size="13.1" text-anchor="end">13,000</text>
<line x1="86.7" y1="30" x2="90.5" y2="30" stroke="#231f20" stroke-width="1.3"/>
<text x="82.6" y="34.5" font-size="13.1" text-anchor="end">14,000</text>
<line x1="90.5" y1="149" x2="90.5" y2="152.6" stroke="#231f20" stroke-width="1.3"/>
<text x="90.5" y="169.2" font-size="13.1" text-anchor="middle">0</text>
<line x1="154" y1="149" x2="154" y2="152.6" stroke="#231f20" stroke-width="1.3"/>
<text x="154" y="169.2" font-size="13.1" text-anchor="middle">200</text>
<line x1="217.5" y1="149" x2="217.5" y2="152.6" stroke="#231f20" stroke-width="1.3"/>
<text x="217.5" y="169.2" font-size="13.1" text-anchor="middle">400</text>
<line x1="281" y1="149" x2="281" y2="152.6" stroke="#231f20" stroke-width="1.3"/>
<text x="281" y="169.2" font-size="13.1" text-anchor="middle">600</text>
<text x="187.5" y="186.6" font-size="13.1" text-anchor="middle">Time (s)</text>
<text transform="translate(18.7 90) rotate(-90)" font-size="13.3" text-anchor="middle">Relative fluorescence</text>
<text transform="translate(34.8 90) rotate(-90)" font-size="13.1" text-anchor="middle">units</text>
<line x1="100.5" y1="131.8" x2="100.5" y2="110" stroke="#231f20" stroke-width="1.3"/>
<path d="M97.48 114.2 L100.5 110 L103.52 114.2" fill="none" stroke="#231f20" stroke-width="1.3" stroke-linejoin="miter"/>
<text x="98.2" y="144.9" font-size="13.1">Cisplatin 10 μM</text>
<line x1="178.8" y1="103.5" x2="192.2" y2="103.5" stroke="#9a9a9a" stroke-width="1.1"/>
<text x="197.5" y="107.4" font-size="11">siCTL-CP20</text>
<line x1="178.8" y1="121.1" x2="192.2" y2="121.1" stroke="#231f20" stroke-width="0.9"/>
<text x="197.5" y="125" font-size="11">siMICU1-CP20</text>
</g>
<g id="pb">
<rect x="380.4" y="89.2" width="20" height="34.9" fill="#231f20"/>
<line x1="390.4" y1="89.2" x2="390.4" y2="84.9" stroke="#231f20" stroke-width="1.4"/>
<rect x="407.7" y="65.7" width="20.3" height="58.4" fill="#231f20"/>
<line x1="417.85" y1="65.7" x2="417.85" y2="64.3" stroke="#231f20" stroke-width="1.4"/>
<rect x="434.8" y="81.7" width="19.8" height="42.4" fill="#231f20"/>
<line x1="444.7" y1="81.7" x2="444.7" y2="80" stroke="#231f20" stroke-width="1.4"/>
<rect x="461.6" y="40.6" width="20" height="83.5" fill="#231f20"/>
<line x1="471.6" y1="40.6" x2="471.6" y2="37.4" stroke="#231f20" stroke-width="1.4"/>
<path d="M376.9 36 V124.1 H485.6" fill="none" stroke="#231f20" stroke-width="1.6"/>
<line x1="373.9" y1="124.1" x2="376.9" y2="124.1" stroke="#231f20" stroke-width="1.3"/>
<text x="369.4" y="128.6" font-size="13.1" text-anchor="end">0</text>
<line x1="373.9" y1="106.6" x2="376.9" y2="106.6" stroke="#231f20" stroke-width="1.3"/>
<text x="369.4" y="111.1" font-size="13.1" text-anchor="end">0.5</text>
<line x1="373.9" y1="89.1" x2="376.9" y2="89.1" stroke="#231f20" stroke-width="1.3"/>
<text x="369.4" y="93.6" font-size="13.1" text-anchor="end">1</text>
<line x1="373.9" y1="71.6" x2="376.9" y2="71.6" stroke="#231f20" stroke-width="1.3"/>
<text x="369.4" y="76.1" font-size="13.1" text-anchor="end">1.5</text>
<line x1="373.9" y1="54.1" x2="376.9" y2="54.1" stroke="#231f20" stroke-width="1.3"/>
<text x="369.4" y="58.6" font-size="13.1" text-anchor="end">2</text>
<line x1="373.9" y1="36.6" x2="376.9" y2="36.6" stroke="#231f20" stroke-width="1.3"/>
<text x="369.4" y="41.1" font-size="13.1" text-anchor="end">2.5</text>
<line x1="376.9" y1="124.1" x2="376.9" y2="126.7" stroke="#231f20" stroke-width="1.3"/>
<line x1="404" y1="124.1" x2="404" y2="126.7" stroke="#231f20" stroke-width="1.3"/>
<line x1="431.4" y1="124.1" x2="431.4" y2="126.7" stroke="#231f20" stroke-width="1.3"/>
<line x1="458.4" y1="124.1" x2="458.4" y2="126.7" stroke="#231f20" stroke-width="1.3"/>
<line x1="485.4" y1="124.1" x2="485.4" y2="126.7" stroke="#231f20" stroke-width="1.3"/>
<text transform="translate(395.8 136.5) rotate(-45)" font-size="13.1" text-anchor="end">siCTL-CP20</text>
<text transform="translate(423.5 136.5) rotate(-45)" font-size="13.1" text-anchor="end">siMICU1-CP20</text>
<text transform="translate(448.8 136.1) rotate(-45)" font-size="13.1" text-anchor="end">siCTL + Cis</text>
<text transform="translate(477 135.1) rotate(-45)" font-size="13.1" text-anchor="end">siMICU1 + Cis</text>
<text x="419.3" y="62" font-size="13.4" text-anchor="middle" font-weight="bold">*</text>
<text x="473.7" y="36.1" font-size="13.4" text-anchor="middle" font-weight="bold">*</text>
<text transform="translate(324.8 81.7) rotate(-90)" font-size="13.1" text-anchor="middle">Fold change</text>
<text transform="translate(340.2 80.2) rotate(-90)" font-size="13.1" text-anchor="middle">[Ca<tspan font-size="8.65" dy="-4.4">2+</tspan><tspan dy="4.4">]m</tspan></text>
</g>
<g id="pc">
<rect x="578" y="93" width="19.8" height="37.4" fill="#231f20"/>
<line x1="587.9" y1="93" x2="587.9" y2="89" stroke="#231f20" stroke-width="1.4"/>
<rect x="605.3" y="75" width="19.8" height="55.4" fill="#231f20"/>
<line x1="615.2" y1="75" x2="615.2" y2="69.6" stroke="#231f20" stroke-width="1.4"/>
<rect x="632.3" y="87.3" width="19.8" height="43.1" fill="#231f20"/>
<line x1="642.2" y1="87.3" x2="642.2" y2="82.4" stroke="#231f20" stroke-width="1.4"/>
<rect x="659.9" y="55.4" width="19.8" height="75" fill="#231f20"/>
<line x1="669.8" y1="55.4" x2="669.8" y2="52.8" stroke="#231f20" stroke-width="1.4"/>
<path d="M573.8 35.8 V130.4 H683.4" fill="none" stroke="#231f20" stroke-width="1.6"/>
<line x1="570.8" y1="130.4" x2="573.8" y2="130.4" stroke="#231f20" stroke-width="1.3"/>
<text x="564.9" y="134.9" font-size="13.1" text-anchor="end">0</text>
<line x1="570.8" y1="111.6" x2="573.8" y2="111.6" stroke="#231f20" stroke-width="1.3"/>
<text x="564.9" y="116.1" font-size="13.1" text-anchor="end">0.5</text>
<line x1="570.8" y1="92.8" x2="573.8" y2="92.8" stroke="#231f20" stroke-width="1.3"/>
<text x="564.9" y="97.3" font-size="13.1" text-anchor="end">1</text>
<line x1="570.8" y1="74" x2="573.8" y2="74" stroke="#231f20" stroke-width="1.3"/>
<text x="564.9" y="78.5" font-size="13.1" text-anchor="end">1.5</text>
<line x1="570.8" y1="55.2" x2="573.8" y2="55.2" stroke="#231f20" stroke-width="1.3"/>
<text x="564.9" y="59.7" font-size="13.1" text-anchor="end">2</text>
<line x1="570.8" y1="36.4" x2="573.8" y2="36.4" stroke="#231f20" stroke-width="1.3"/>
<text x="564.9" y="40.9" font-size="13.1" text-anchor="end">2.5</text>
<line x1="573.8" y1="130.4" x2="573.8" y2="133" stroke="#231f20" stroke-width="1.3"/>
<line x1="601.4" y1="130.4" x2="601.4" y2="133" stroke="#231f20" stroke-width="1.3"/>
<line x1="628.4" y1="130.4" x2="628.4" y2="133" stroke="#231f20" stroke-width="1.3"/>
<line x1="655.8" y1="130.4" x2="655.8" y2="133" stroke="#231f20" stroke-width="1.3"/>
<line x1="683.2" y1="130.4" x2="683.2" y2="133" stroke="#231f20" stroke-width="1.3"/>
<text transform="translate(591.9 141.8) rotate(-45)" font-size="13.1" text-anchor="end">siCTL-OV90</text>
<text transform="translate(619.4 141.8) rotate(-45)" font-size="13.1" text-anchor="end">siMICU1-OV90</text>
<text transform="translate(644.8 141.5) rotate(-45)" font-size="13.1" text-anchor="end">siCTL + Cis</text>
<text transform="translate(674.5 141.5) rotate(-45)" font-size="13.1" text-anchor="end">siMICU1 + Cis</text>
<text x="671.7" y="51.2" font-size="13.4" text-anchor="middle" font-weight="bold">*</text>
<text transform="translate(522.3 86.5) rotate(-90)" font-size="13.1" text-anchor="middle">Fold change</text>
<text transform="translate(537.6 86.4) rotate(-90)" font-size="13.1" text-anchor="middle">[Ca<tspan font-size="8.65" dy="-4.4">2+</tspan><tspan dy="4.4">]m</tspan></text>
</g>
<g id="pd">
<path d="M772.4 142.9V143.5M771.4 142.9h2M771.4 143.5h2M773.4 142.94V143.54M772.4 142.94h2M772.4 143.54h2M774.4 142.99V143.59M773.4 142.99h2M773.4 143.59h2M775.4 143.03V143.63M774.4 143.03h2M774.4 143.63h2M776.4 143.08V143.68M775.4 143.08h2M775.4 143.68h2M777.4 143.12V143.72M776.4 143.12h2M776.4 143.72h2M778.4 143.17V143.77M777.4 143.17h2M777.4 143.77h2M779.4 143.22V143.82M778.4 143.22h2M778.4 143.82h2M780.4 143.27V143.87M779.4 143.27h2M779.4 143.87h2M781.4 143.32V143.92M780.4 143.32h2M780.4 143.92h2M782.4 143.37V143.97M781.4 143.37h2M781.4 143.97h2M783.4 143.42V144.02M782.4 143.42h2M782.4 144.02h2M784.4 143.47V144.07M783.4 143.47h2M783.4 144.07h2M785.4 143.52V144.12M784.4 143.52h2M784.4 144.12h2M786.4 143.58V144.18M785.4 143.58h2M785.4 144.18h2M787.4 143.63V144.23M786.4 143.63h2M786.4 144.23h2M788.4 143.69V144.29M787.4 143.69h2M787.4 144.29h2M789.4 143.75V144.35M788.4 143.75h2M788.4 144.35h2M790.4 143.82V144.42M789.4 143.82h2M789.4 144.42h2M791.4 143.88V144.48M790.4 143.88h2M790.4 144.48h2M792.4 143.94V144.54M791.4 143.94h2M791.4 144.54h2M793.4 144V144.6M792.4 144h2M792.4 144.6h2M794.4 144.06V144.66M793.4 144.06h2M793.4 144.66h2M795.4 144.11V144.71M794.4 144.11h2M794.4 144.71h2M796.4 144.17V144.77M795.4 144.17h2M795.4 144.77h2M797.4 144.22V144.82M796.4 144.22h2M796.4 144.82h2M798.4 144.28V144.88M797.4 144.28h2M797.4 144.88h2M799.4 144.34V144.94M798.4 144.34h2M798.4 144.94h2M800.4 144.4V145M799.4 144.4h2M799.4 145h2M801.4 144.46V145.06M800.4 144.46h2M800.4 145.06h2M802.4 144.51V145.11M801.4 144.51h2M801.4 145.11h2M803.4 144.55V145.15M802.4 144.55h2M802.4 145.15h2M804.4 144.58V145.18M803.4 144.58h2M803.4 145.18h2M805.4 144.6V145.2M804.4 144.6h2M804.4 145.2h2M806.4 144.53V145.15M805.4 144.53h2M805.4 145.15h2M807.4 144.25V144.93M806.4 144.25h2M806.4 144.93h2M808.4 143.86V144.59M807.4 143.86h2M807.4 144.59h2M809.4 143.43V144.22M808.4 143.43h2M808.4 144.22h2M810.4 143.04V143.88M809.4 143.04h2M809.4 143.88h2M811.4 142.66V143.56M810.4 142.66h2M810.4 143.56h2M812.4 142.27V143.22M811.4 142.27h2M811.4 143.22h2M813.4 141.84V142.85M812.4 141.84h2M812.4 142.85h2M814.4 141.35V142.42M813.4 141.35h2M813.4 142.42h2M815.4 140.8V141.92M814.4 140.8h2M814.4 141.92h2M816.4 140.09V141.27M815.4 140.09h2M815.4 141.27h2M817.4 139.19V140.42M816.4 139.19h2M816.4 140.42h2M818.4 138.18V139.46M817.4 138.18h2M817.4 139.46h2M819.4 137.13V138.47M818.4 137.13h2M818.4 138.47h2M820.4 136.11V137.5M819.4 136.11h2M819.4 137.5h2M821.4 135.05V136.5M820.4 135.05h2M820.4 136.5h2M822.4 133.95V135.45M821.4 133.95h2M821.4 135.45h2M823.4 132.84V134.4M822.4 132.84h2M822.4 134.4h2M824.4 131.73V133.35M823.4 131.73h2M823.4 133.35h2M825.4 130.66V132.34M824.4 130.66h2M824.4 132.34h2M826.4 129.6V131.33M825.4 129.6h2M825.4 131.33h2M827.4 128.54V130.32M826.4 128.54h2M826.4 130.32h2M828.4 127.5V129.34M827.4 127.5h2M827.4 129.34h2M829.4 126.55V128.44M828.4 126.55h2M828.4 128.44h2M830.4 125.71V127.66M829.4 125.71h2M829.4 127.66h2M831.4 124.92V126.92M830.4 124.92h2M830.4 126.92h2M832.4 124.17V126.23M831.4 124.17h2M831.4 126.23h2M833.4 123.49V125.6M832.4 123.49h2M832.4 125.6h2M834.4 122.89V125.06M833.4 122.89h2M833.4 125.06h2M835.4 122.42V124.62M834.4 122.42h2M834.4 124.62h2M836.4 122.01V124.21M835.4 122.01h2M835.4 124.21h2M837.4 121.64V123.84M836.4 121.64h2M836.4 123.84h2M838.4 121.33V123.53M837.4 121.33h2M837.4 123.53h2M839.4 121.1V123.3M838.4 121.1h2M838.4 123.3h2M840.4 120.95V123.15M839.4 120.95h2M839.4 123.15h2M841.4 120.83V123.03M840.4 120.83h2M840.4 123.03h2M842.4 120.73V122.93M841.4 120.73h2M841.4 122.93h2M843.4 120.65V122.85M842.4 120.65h2M842.4 122.85h2M844.4 120.61V122.81M843.4 120.61h2M843.4 122.81h2M845.4 120.6V122.8M844.4 120.6h2M844.4 122.8h2M846.4 120.64V122.84M845.4 120.64h2M845.4 122.84h2M847.4 120.7V122.9M846.4 120.7h2M846.4 122.9h2M848.4 120.79V122.99M847.4 120.79h2M847.4 122.99h2M849.4 120.89V123.09M848.4 120.89h2M848.4 123.09h2M850.4 121.02V123.22M849.4 121.02h2M849.4 123.22h2M851.4 121.21V123.41M850.4 121.21h2M850.4 123.41h2M852.4 121.44V123.64M851.4 121.44h2M851.4 123.64h2M853.4 121.7V123.9M852.4 121.7h2M852.4 123.9h2M854.4 121.97V124.17M853.4 121.97h2M853.4 124.17h2M855.4 122.24V124.44M854.4 122.24h2M854.4 124.44h2M856.4 122.53V124.73M855.4 122.53h2M855.4 124.73h2M857.4 122.84V125.04M856.4 122.84h2M856.4 125.04h2M858.4 123.18V125.38M857.4 123.18h2M857.4 125.38h2M859.4 123.53V125.73M858.4 123.53h2M858.4 125.73h2M860.4 123.9V126.09M859.4 123.9h2M859.4 126.09h2M861.4 124.29V126.44M860.4 124.29h2M860.4 126.44h2M862.4 124.68V126.81M861.4 124.68h2M861.4 126.81h2M863.4 125.07V127.17M862.4 125.07h2M862.4 127.17h2M864.4 125.46V127.52M863.4 125.46h2M863.4 127.52h2M865.4 125.84V127.88M864.4 125.84h2M864.4 127.88h2M866.4 126.24V128.24M865.4 126.24h2M865.4 128.24h2M867.4 126.64V128.62M866.4 126.64h2M866.4 128.62h2M868.4 127.05V129M867.4 127.05h2M867.4 129h2M869.4 127.47V129.39M868.4 127.47h2M868.4 129.39h2M870.4 127.89V129.78M869.4 127.89h2M869.4 129.78h2M871.4 128.32V130.18M870.4 128.32h2M870.4 130.18h2M872.4 128.75V130.58M871.4 128.75h2M871.4 130.58h2M873.4 129.18V130.98M872.4 129.18h2M872.4 130.98h2M874.4 129.61V131.38M873.4 129.61h2M873.4 131.38h2M875.4 130.04V131.78M874.4 130.04h2M874.4 131.78h2M876.4 130.47V132.18M875.4 130.47h2M875.4 132.18h2M877.4 130.89V132.57M876.4 130.89h2M876.4 132.57h2M878.4 131.31V132.96M877.4 131.31h2M877.4 132.96h2M879.4 131.73V133.35M878.4 131.73h2M878.4 133.35h2M880.4 132.13V133.72M879.4 132.13h2M879.4 133.72h2M881.4 132.53V134.09M880.4 132.53h2M880.4 134.09h2M882.4 132.92V134.45M881.4 132.92h2M881.4 134.45h2M883.4 133.3V134.8M882.4 133.3h2M882.4 134.8h2M884.4 133.67V135.13M883.4 133.67h2M883.4 135.13h2M885.4 134.03V135.46M884.4 134.03h2M884.4 135.46h2M886.4 134.39V135.79M885.4 134.39h2M885.4 135.79h2M887.4 134.74V136.12M886.4 134.74h2M886.4 136.12h2M888.4 135.1V136.45M887.4 135.1h2M887.4 136.45h2M889.4 135.46V136.78M888.4 135.46h2M888.4 136.78h2M890.4 135.81V137.1M889.4 135.81h2M889.4 137.1h2M891.4 136.16V137.42M890.4 136.16h2M890.4 137.42h2M892.4 136.51V137.73M891.4 136.51h2M891.4 137.73h2M893.4 136.85V138.04M892.4 136.85h2M892.4 138.04h2M894.4 137.18V138.35M893.4 137.18h2M893.4 138.35h2M895.4 137.51V138.64M894.4 137.51h2M894.4 138.64h2M896.4 137.83V138.93M895.4 137.83h2M895.4 138.93h2M897.4 138.14V139.22M896.4 138.14h2M896.4 139.22h2M898.4 138.44V139.49M897.4 138.44h2M897.4 139.49h2M899.4 138.73V139.75M898.4 138.73h2M898.4 139.75h2M900.4 139.01V140.01M899.4 139.01h2M899.4 140.01h2M901.4 139.28V140.26M900.4 139.28h2M900.4 140.26h2M902.4 139.53V140.5M901.4 139.53h2M901.4 140.5h2M903.4 139.77V140.72M902.4 139.77h2M902.4 140.72h2M904.4 139.99V140.94M903.4 139.99h2M903.4 140.94h2M905.4 140.21V141.14M904.4 140.21h2M904.4 141.14h2M906.4 140.41V141.33M905.4 140.41h2M905.4 141.33h2M907.4 140.61V141.52M906.4 140.61h2M906.4 141.52h2M908.4 140.81V141.7M907.4 140.81h2M907.4 141.7h2M909.4 140.99V141.88M908.4 140.99h2M908.4 141.88h2M910.4 141.17V142.04M909.4 141.17h2M909.4 142.04h2M911.4 141.35V142.21M910.4 141.35h2M910.4 142.21h2M912.4 141.52V142.37M911.4 141.52h2M911.4 142.37h2M913.4 141.69V142.52M912.4 141.69h2M912.4 142.52h2M914.4 141.85V142.67M913.4 141.85h2M913.4 142.67h2M915.4 142.01V142.82M914.4 142.01h2M914.4 142.82h2M916.4 142.17V142.97M915.4 142.17h2M915.4 142.97h2M917.4 142.33V143.11M916.4 142.33h2M916.4 143.11h2M918.4 142.49V143.26M917.4 142.49h2M917.4 143.26h2M919.4 142.65V143.4M918.4 142.65h2M918.4 143.4h2M920.4 142.8V143.55M919.4 142.8h2M919.4 143.55h2M921.4 142.96V143.69M920.4 142.96h2M920.4 143.69h2M922.4 143.12V143.84M921.4 143.12h2M921.4 143.84h2M923.4 143.28V143.99M922.4 143.28h2M922.4 143.99h2M924.4 143.45V144.14M923.4 143.45h2M923.4 144.14h2M925.4 143.61V144.29M924.4 143.61h2M924.4 144.29h2M926.4 143.77V144.44M925.4 143.77h2M925.4 144.44h2M927.4 143.93V144.59M926.4 143.93h2M926.4 144.59h2M928.4 144.09V144.73M927.4 144.09h2M927.4 144.73h2M929.4 144.24V144.88M928.4 144.24h2M928.4 144.88h2M930.4 144.4V145.02M929.4 144.4h2M929.4 145.02h2M931.4 144.55V145.16M930.4 144.55h2M930.4 145.16h2" fill="none" stroke="#4a4647" stroke-width="0.6"/>
<path d="M772.4 143.2h0M773.4 143.24h0M774.4 143.29h0M775.4 143.33h0M776.4 143.38h0M777.4 143.42h0M778.4 143.47h0M779.4 143.52h0M780.4 143.57h0M781.4 143.62h0M782.4 143.67h0M783.4 143.72h0M784.4 143.77h0M785.4 143.82h0M786.4 143.88h0M787.4 143.93h0M788.4 143.99h0M789.4 144.05h0M790.4 144.12h0M791.4 144.18h0M792.4 144.24h0M793.4 144.3h0M794.4 144.36h0M795.4 144.41h0M796.4 144.47h0M797.4 144.52h0M798.4 144.58h0M799.4 144.64h0M800.4 144.7h0M801.4 144.76h0M802.4 144.81h0M803.4 144.85h0M804.4 144.88h0M805.4 144.9h0M806.4 144.84h0M807.4 144.59h0M808.4 144.23h0M809.4 143.82h0M810.4 143.46h0M811.4 143.11h0M812.4 142.75h0M813.4 142.34h0M814.4 141.89h0M815.4 141.36h0M816.4 140.68h0M817.4 139.81h0M818.4 138.82h0M819.4 137.8h0M820.4 136.8h0M821.4 135.77h0M822.4 134.7h0M823.4 133.62h0M824.4 132.54h0M825.4 131.5h0M826.4 130.47h0M827.4 129.43h0M828.4 128.42h0M829.4 127.5h0M830.4 126.69h0M831.4 125.92h0M832.4 125.2h0M833.4 124.54h0M834.4 123.98h0M835.4 123.52h0M836.4 123.11h0M837.4 122.74h0M838.4 122.43h0M839.4 122.2h0M840.4 122.05h0M841.4 121.93h0M842.4 121.83h0M843.4 121.75h0M844.4 121.71h0M845.4 121.7h0M846.4 121.74h0M847.4 121.8h0M848.4 121.89h0M849.4 121.99h0M850.4 122.12h0M851.4 122.31h0M852.4 122.54h0M853.4 122.8h0M854.4 123.07h0M855.4 123.34h0M856.4 123.63h0M857.4 123.94h0M858.4 124.28h0M859.4 124.63h0M860.4 124.99h0M861.4 125.37h0M862.4 125.74h0M863.4 126.12h0M864.4 126.49h0M865.4 126.86h0M866.4 127.24h0M867.4 127.63h0M868.4 128.02h0M869.4 128.43h0M870.4 128.83h0M871.4 129.25h0M872.4 129.66h0M873.4 130.08h0M874.4 130.49h0M875.4 130.91h0M876.4 131.32h0M877.4 131.73h0M878.4 132.14h0M879.4 132.54h0M880.4 132.93h0M881.4 133.31h0M882.4 133.69h0M883.4 134.05h0M884.4 134.4h0M885.4 134.74h0M886.4 135.09h0M887.4 135.43h0M888.4 135.78h0M889.4 136.12h0M890.4 136.46h0M891.4 136.79h0M892.4 137.12h0M893.4 137.44h0M894.4 137.76h0M895.4 138.08h0M896.4 138.38h0M897.4 138.68h0M898.4 138.97h0M899.4 139.24h0M900.4 139.51h0M901.4 139.77h0M902.4 140.01h0M903.4 140.25h0M904.4 140.46h0M905.4 140.67h0M906.4 140.87h0M907.4 141.07h0M908.4 141.25h0M909.4 141.44h0M910.4 141.61h0M911.4 141.78h0M912.4 141.94h0M913.4 142.11h0M914.4 142.26h0M915.4 142.42h0M916.4 142.57h0M917.4 142.72h0M918.4 142.87h0M919.4 143.02h0M920.4 143.18h0M921.4 143.33h0M922.4 143.48h0M923.4 143.64h0M924.4 143.79h0M925.4 143.95h0M926.4 144.1h0M927.4 144.26h0M928.4 144.41h0M929.4 144.56h0M930.4 144.71h0M931.4 144.86h0" fill="none" stroke="#141213" stroke-width="1.9" stroke-linecap="square"/>
<path d="M772.4 142.9V143.5M771.4 142.9h2M771.4 143.5h2M773.4 142.94V143.54M772.4 142.94h2M772.4 143.54h2M774.4 142.99V143.59M773.4 142.99h2M773.4 143.59h2M775.4 143.03V143.63M774.4 143.03h2M774.4 143.63h2M776.4 143.08V143.68M775.4 143.08h2M775.4 143.68h2M777.4 143.12V143.72M776.4 143.12h2M776.4 143.72h2M778.4 143.17V143.77M777.4 143.17h2M777.4 143.77h2M779.4 143.22V143.82M778.4 143.22h2M778.4 143.82h2M780.4 143.27V143.87M779.4 143.27h2M779.4 143.87h2M781.4 143.32V143.92M780.4 143.32h2M780.4 143.92h2M782.4 143.37V143.97M781.4 143.37h2M781.4 143.97h2M783.4 143.42V144.02M782.4 143.42h2M782.4 144.02h2M784.4 143.47V144.07M783.4 143.47h2M783.4 144.07h2M785.4 143.52V144.12M784.4 143.52h2M784.4 144.12h2M786.4 143.58V144.18M785.4 143.58h2M785.4 144.18h2M787.4 143.64V144.24M786.4 143.64h2M786.4 144.24h2M788.4 143.71V144.31M787.4 143.71h2M787.4 144.31h2M789.4 143.77V144.37M788.4 143.77h2M788.4 144.37h2M790.4 143.84V144.44M789.4 143.84h2M789.4 144.44h2M791.4 143.91V144.51M790.4 143.91h2M790.4 144.51h2M792.4 143.97V144.57M791.4 143.97h2M791.4 144.57h2M793.4 144.03V144.63M792.4 144.03h2M792.4 144.63h2M794.4 144.09V144.69M793.4 144.09h2M793.4 144.69h2M795.4 144.14V144.74M794.4 144.14h2M794.4 144.74h2M796.4 144.18V144.78M795.4 144.18h2M795.4 144.78h2M797.4 144.21V144.81M796.4 144.21h2M796.4 144.81h2M798.4 144.24V144.84M797.4 144.24h2M797.4 144.84h2M799.4 144.27V144.87M798.4 144.27h2M798.4 144.87h2M800.4 144.3V144.9M799.4 144.3h2M799.4 144.9h2M801.4 144.33V144.93M800.4 144.33h2M800.4 144.93h2M802.4 144.35V144.95M801.4 144.35h2M801.4 144.95h2M803.4 144.37V144.97M802.4 144.37h2M802.4 144.97h2M804.4 144.39V144.99M803.4 144.39h2M803.4 144.99h2M805.4 144.4V145M804.4 144.4h2M804.4 145h2M806.4 144.38V145.02M805.4 144.38h2M805.4 145.02h2M807.4 143.97V144.71M806.4 143.97h2M806.4 144.71h2M808.4 143.14V143.98M807.4 143.14h2M807.4 143.98h2M809.4 142.05V142.99M808.4 142.05h2M808.4 142.99h2M810.4 140.12V141.16M809.4 140.12h2M809.4 141.16h2M811.4 137.52V138.66M810.4 137.52h2M810.4 138.66h2M812.4 134.66V135.9M811.4 134.66h2M811.4 135.9h2M813.4 131.48V132.82M812.4 131.48h2M812.4 132.82h2M814.4 127.69V129.13M813.4 127.69h2M813.4 129.13h2M815.4 123.65V125.19M814.4 123.65h2M814.4 125.19h2M816.4 119.71V121.35M815.4 119.71h2M815.4 121.35h2M817.4 116.19V117.93M816.4 116.19h2M816.4 117.93h2M818.4 112.88V114.72M817.4 112.88h2M817.4 114.72h2M819.4 109.67V111.61M818.4 109.67h2M818.4 111.61h2M820.4 106.49V108.64M819.4 106.49h2M819.4 108.64h2M821.4 103.3V105.83M820.4 103.3h2M820.4 105.83h2M822.4 100.17V103.06M821.4 100.17h2M821.4 103.06h2M823.4 97.07V100.33M822.4 97.07h2M822.4 100.33h2M824.4 93.96V97.61M823.4 93.96h2M823.4 97.61h2M825.4 90.86V94.88M824.4 90.86h2M824.4 94.88h2M826.4 87.79V92.18M825.4 87.79h2M825.4 92.18h2M827.4 84.79V89.55M826.4 84.79h2M826.4 89.55h2M828.4 81.9V87.03M827.4 81.9h2M827.4 87.03h2M829.4 79.14V84.65M828.4 79.14h2M828.4 84.65h2M830.4 76.56V82.44M829.4 76.56h2M829.4 82.44h2M831.4 74.08V80.33M830.4 74.08h2M830.4 80.33h2M832.4 71.63V78.26M831.4 71.63h2M831.4 78.26h2M833.4 69.28V76.28M832.4 69.28h2M832.4 76.28h2M834.4 67.08V74.46M833.4 67.08h2M833.4 74.46h2M835.4 65.15V72.8M834.4 65.15h2M834.4 72.8h2M836.4 63.58V71.35M835.4 63.58h2M835.4 71.35h2M837.4 62.24V70.14M836.4 62.24h2M836.4 70.14h2M838.4 60.99V69.02M837.4 60.99h2M837.4 69.02h2M839.4 59.83V67.98M838.4 59.83h2M838.4 67.98h2M840.4 58.77V67.05M839.4 58.77h2M839.4 67.05h2M841.4 57.83V66.24M840.4 57.83h2M840.4 66.24h2M842.4 57.03V65.56M841.4 57.03h2M841.4 65.56h2M843.4 56.37V65.03M842.4 56.37h2M842.4 65.03h2M844.4 55.82V64.61M843.4 55.82h2M843.4 64.61h2M845.4 55.29V64.21M844.4 55.29h2M844.4 64.21h2M846.4 54.78V63.82M845.4 54.78h2M845.4 63.82h2M847.4 54.3V63.47M846.4 54.3h2M846.4 63.47h2M848.4 53.86V63.15M847.4 53.86h2M847.4 63.15h2M849.4 53.45V62.87M848.4 53.45h2M848.4 62.87h2M850.4 53.11V62.65M849.4 53.11h2M849.4 62.65h2M851.4 52.82V62.49M850.4 52.82h2M850.4 62.49h2M852.4 52.59V62.39M851.4 52.59h2M851.4 62.39h2M853.4 52.45V62.37M852.4 52.45h2M852.4 62.37h2M854.4 52.42V62.4M853.4 52.42h2M853.4 62.4h2M855.4 52.5V62.43M854.4 52.5h2M854.4 62.43h2M856.4 52.63V62.51M855.4 52.63h2M855.4 62.51h2M857.4 52.8V62.64M856.4 52.8h2M856.4 62.64h2M858.4 53.01V62.8M857.4 53.01h2M857.4 62.8h2M859.4 53.26V63M858.4 53.26h2M858.4 63h2M860.4 53.53V63.22M859.4 53.53h2M859.4 63.22h2M861.4 53.82V63.47M860.4 53.82h2M860.4 63.47h2M862.4 54.13V63.73M861.4 54.13h2M861.4 63.73h2M863.4 54.44V63.99M862.4 54.44h2M862.4 63.99h2M864.4 54.76V64.26M863.4 54.76h2M863.4 64.26h2M865.4 55.09V64.55M864.4 55.09h2M864.4 64.55h2M866.4 55.48V64.89M865.4 55.48h2M865.4 64.89h2M867.4 55.93V65.28M866.4 55.93h2M866.4 65.28h2M868.4 56.42V65.73M867.4 56.42h2M867.4 65.73h2M869.4 56.95V66.22M868.4 56.95h2M868.4 66.22h2M870.4 57.53V66.74M869.4 57.53h2M869.4 66.74h2M871.4 58.13V67.3M870.4 58.13h2M870.4 67.3h2M872.4 58.76V67.88M871.4 58.76h2M871.4 67.88h2M873.4 59.41V68.48M872.4 59.41h2M872.4 68.48h2M874.4 60.07V69.09M873.4 60.07h2M873.4 69.09h2M875.4 60.73V69.71M874.4 60.73h2M874.4 69.71h2M876.4 61.4V70.33M875.4 61.4h2M875.4 70.33h2M877.4 62.07V70.95M876.4 62.07h2M876.4 70.95h2M878.4 62.72V71.55M877.4 62.72h2M877.4 71.55h2M879.4 63.37V72.16M878.4 63.37h2M878.4 72.16h2M880.4 64.04V72.78M879.4 64.04h2M879.4 72.78h2M881.4 64.72V73.41M880.4 64.72h2M880.4 73.41h2M882.4 65.42V74.06M881.4 65.42h2M881.4 74.06h2M883.4 66.12V74.72M882.4 66.12h2M882.4 74.72h2M884.4 66.85V75.39M883.4 66.85h2M883.4 75.39h2M885.4 67.58V76.08M884.4 67.58h2M884.4 76.08h2M886.4 68.32V76.78M885.4 68.32h2M885.4 76.78h2M887.4 69.08V77.48M886.4 69.08h2M886.4 77.48h2M888.4 69.85V78.2M887.4 69.85h2M887.4 78.2h2M889.4 70.62V78.93M888.4 70.62h2M888.4 78.93h2M890.4 71.41V79.66M889.4 71.41h2M889.4 79.66h2M891.4 72.2V80.41M890.4 72.2h2M890.4 80.41h2M892.4 73V81.16M891.4 73h2M891.4 81.16h2M893.4 73.81V81.93M892.4 73.81h2M892.4 81.93h2M894.4 74.65V82.72M893.4 74.65h2M893.4 82.72h2M895.4 75.5V83.52M894.4 75.5h2M894.4 83.52h2M896.4 76.38V84.35M895.4 76.38h2M895.4 84.35h2M897.4 77.26V85.18M896.4 77.26h2M896.4 85.18h2M898.4 78.15V86.03M897.4 78.15h2M897.4 86.03h2M899.4 79.05V86.88M898.4 79.05h2M898.4 86.88h2M900.4 79.95V87.74M899.4 79.95h2M899.4 87.74h2M901.4 80.86V88.6M900.4 80.86h2M900.4 88.6h2M902.4 81.76V89.45M901.4 81.76h2M901.4 89.45h2M903.4 82.65V90.3M902.4 82.65h2M902.4 90.3h2M904.4 83.55V91.16M903.4 83.55h2M903.4 91.16h2M905.4 84.53V92.1M904.4 84.53h2M904.4 92.1h2M906.4 85.6V93.12M905.4 85.6h2M905.4 93.12h2M907.4 86.73V94.21M906.4 86.73h2M906.4 94.21h2M908.4 87.9V95.33M907.4 87.9h2M907.4 95.33h2M909.4 89.09V96.48M908.4 89.09h2M908.4 96.48h2M910.4 90.28V97.62M909.4 90.28h2M909.4 97.62h2M911.4 91.43V98.73M910.4 91.43h2M910.4 98.73h2M912.4 92.54V99.8M911.4 92.54h2M911.4 99.8h2M913.4 93.58V100.79M912.4 93.58h2M912.4 100.79h2M914.4 94.52V101.69M913.4 94.52h2M913.4 101.69h2M915.4 95.34V102.47M914.4 95.34h2M914.4 102.47h2M916.4 96.03V103.11M915.4 96.03h2M915.4 103.11h2M917.4 96.55V103.59M916.4 96.55h2M916.4 103.59h2M918.4 96.89V103.89M917.4 96.89h2M917.4 103.89h2M919.4 97.02V103.98M918.4 97.02h2M918.4 103.98h2M920.4 96.87V103.78M919.4 96.87h2M919.4 103.78h2M921.4 96.68V103.54M920.4 96.68h2M920.4 103.54h2M922.4 97.11V103.93M921.4 97.11h2M921.4 103.93h2M923.4 98.27V105.05M922.4 98.27h2M922.4 105.05h2M924.4 99.28V106.01M923.4 99.28h2M923.4 106.01h2M925.4 100.17V106.86M924.4 100.17h2M924.4 106.86h2M926.4 101.04V107.69M925.4 101.04h2M925.4 107.69h2M927.4 101.9V108.5M926.4 101.9h2M926.4 108.5h2M928.4 102.75V109.3M927.4 102.75h2M927.4 109.3h2M929.4 103.57V110.09M928.4 103.57h2M928.4 110.09h2M930.4 104.38V110.85M929.4 104.38h2M929.4 110.85h2M931.4 105.16V111.59M930.4 105.16h2M930.4 111.59h2" fill="none" stroke="#bdbdbd" stroke-width="0.6"/>
<path d="M828.4 81.9 L829.4 79.14 L830.4 76.56 L831.4 74.08 L832.4 71.63 L833.4 69.28 L834.4 67.08 L835.4 65.15 L836.4 63.58 L837.4 62.24 L838.4 60.99 L839.4 59.83 L840.4 58.77 L841.4 57.83 L842.4 57.03 L843.4 56.37 L844.4 55.82 L845.4 55.29 L846.4 54.78 L847.4 54.3 L848.4 53.86 L849.4 53.45 L850.4 53.11 L851.4 52.82 L852.4 52.59 L853.4 52.45 L854.4 52.42 L855.4 52.5 L856.4 52.63 L857.4 52.8 L858.4 53.01 L859.4 53.26 L860.4 53.53 L861.4 53.82 L862.4 54.13 L863.4 54.44 L864.4 54.76 L865.4 55.09 L866.4 55.48 L867.4 55.93 L868.4 56.42 L869.4 56.95 L870.4 57.53 L871.4 58.13 L872.4 58.76 L873.4 59.41 L874.4 60.07 L875.4 60.73 L876.4 61.4 L877.4 62.07 L878.4 62.72 L879.4 63.37 L880.4 64.04 L881.4 64.72 L882.4 65.42 L883.4 66.12 L884.4 66.85 L885.4 67.58 L886.4 68.32 L887.4 69.08 L888.4 69.85 L889.4 70.62 L890.4 71.41 L891.4 72.2 L892.4 73 L893.4 73.81 L894.4 74.65 L895.4 75.5 L896.4 76.38 L897.4 77.26 L898.4 78.15 L899.4 79.05 L900.4 79.95 L901.4 80.86 L902.4 81.76 L903.4 82.65 L904.4 83.55 L905.4 84.53 L906.4 85.6 L907.4 86.73 L908.4 87.9 L909.4 89.09 L910.4 90.28 L911.4 91.43 L912.4 92.54 L913.4 93.58 L914.4 94.52 L915.4 95.34 L916.4 96.03 L917.4 96.55 L918.4 96.89 L919.4 97.02 L920.4 96.87 L921.4 96.68 L922.4 97.11 L923.4 98.27 L924.4 99.28 L925.4 100.17 L926.4 101.04 L927.4 101.9 L928.4 102.75 L929.4 103.57 L930.4 104.38 L931.4 105.16" fill="none" stroke="#a9a9a9" stroke-width="0.7"/>
<path d="M828.4 87.03 L829.4 84.65 L830.4 82.44 L831.4 80.33 L832.4 78.26 L833.4 76.28 L834.4 74.46 L835.4 72.8 L836.4 71.35 L837.4 70.14 L838.4 69.02 L839.4 67.98 L840.4 67.05 L841.4 66.24 L842.4 65.56 L843.4 65.03 L844.4 64.61 L845.4 64.21 L846.4 63.82 L847.4 63.47 L848.4 63.15 L849.4 62.87 L850.4 62.65 L851.4 62.49 L852.4 62.39 L853.4 62.37 L854.4 62.4 L855.4 62.43 L856.4 62.51 L857.4 62.64 L858.4 62.8 L859.4 63 L860.4 63.22 L861.4 63.47 L862.4 63.73 L863.4 63.99 L864.4 64.26 L865.4 64.55 L866.4 64.89 L867.4 65.28 L868.4 65.73 L869.4 66.22 L870.4 66.74 L871.4 67.3 L872.4 67.88 L873.4 68.48 L874.4 69.09 L875.4 69.71 L876.4 70.33 L877.4 70.95 L878.4 71.55 L879.4 72.16 L880.4 72.78 L881.4 73.41 L882.4 74.06 L883.4 74.72 L884.4 75.39 L885.4 76.08 L886.4 76.78 L887.4 77.48 L888.4 78.2 L889.4 78.93 L890.4 79.66 L891.4 80.41 L892.4 81.16 L893.4 81.93 L894.4 82.72 L895.4 83.52 L896.4 84.35 L897.4 85.18 L898.4 86.03 L899.4 86.88 L900.4 87.74 L901.4 88.6 L902.4 89.45 L903.4 90.3 L904.4 91.16 L905.4 92.1 L906.4 93.12 L907.4 94.21 L908.4 95.33 L909.4 96.48 L910.4 97.62 L911.4 98.73 L912.4 99.8 L913.4 100.79 L914.4 101.69 L915.4 102.47 L916.4 103.11 L917.4 103.59 L918.4 103.89 L919.4 103.98 L920.4 103.78 L921.4 103.54 L922.4 103.93 L923.4 105.05 L924.4 106.01 L925.4 106.86 L926.4 107.69 L927.4 108.5 L928.4 109.3 L929.4 110.09 L930.4 110.85 L931.4 111.59" fill="none" stroke="#a9a9a9" stroke-width="0.7"/>
<path d="M772.4 143.2h0M773.4 143.24h0M774.4 143.29h0M775.4 143.33h0M776.4 143.38h0M777.4 143.42h0M778.4 143.47h0M779.4 143.52h0M780.4 143.57h0M781.4 143.62h0M782.4 143.67h0M783.4 143.72h0M784.4 143.77h0M785.4 143.82h0M786.4 143.88h0M787.4 143.94h0M788.4 144.01h0M789.4 144.07h0M790.4 144.14h0M791.4 144.21h0M792.4 144.27h0M793.4 144.33h0M794.4 144.39h0M795.4 144.44h0M796.4 144.48h0M797.4 144.51h0M798.4 144.54h0M799.4 144.57h0M800.4 144.6h0M801.4 144.63h0M802.4 144.65h0M803.4 144.67h0M804.4 144.69h0M805.4 144.7h0M806.4 144.7h0M807.4 144.34h0M808.4 143.56h0M809.4 142.52h0M810.4 140.64h0M811.4 138.09h0M812.4 135.28h0M813.4 132.15h0M814.4 128.41h0M815.4 124.42h0M816.4 120.53h0M817.4 117.06h0M818.4 113.8h0M819.4 110.64h0M820.4 107.57h0M821.4 104.56h0M822.4 101.61h0M823.4 98.7h0M824.4 95.78h0M825.4 92.87h0M826.4 89.99h0M827.4 87.17h0M828.4 84.46h0M829.4 81.89h0M830.4 79.5h0M831.4 77.2h0M832.4 74.94h0M833.4 72.78h0M834.4 70.77h0M835.4 68.98h0M836.4 67.46h0M837.4 66.19h0M838.4 65h0M839.4 63.9h0M840.4 62.91h0M841.4 62.04h0M842.4 61.29h0M843.4 60.7h0M844.4 60.22h0M845.4 59.75h0M846.4 59.3h0M847.4 58.88h0M848.4 58.5h0M849.4 58.16h0M850.4 57.88h0M851.4 57.65h0M852.4 57.49h0M853.4 57.41h0M854.4 57.41h0M855.4 57.46h0M856.4 57.57h0M857.4 57.72h0M858.4 57.91h0M859.4 58.13h0M860.4 58.38h0M861.4 58.64h0M862.4 58.93h0M863.4 59.22h0M864.4 59.51h0M865.4 59.82h0M866.4 60.19h0M867.4 60.61h0M868.4 61.07h0M869.4 61.59h0M870.4 62.13h0M871.4 62.71h0M872.4 63.32h0M873.4 63.94h0M874.4 64.58h0M875.4 65.22h0M876.4 65.87h0M877.4 66.51h0M878.4 67.14h0M879.4 67.76h0M880.4 68.41h0M881.4 69.06h0M882.4 69.74h0M883.4 70.42h0M884.4 71.12h0M885.4 71.83h0M886.4 72.55h0M887.4 73.28h0M888.4 74.02h0M889.4 74.78h0M890.4 75.54h0M891.4 76.3h0M892.4 77.08h0M893.4 77.87h0M894.4 78.68h0M895.4 79.51h0M896.4 80.36h0M897.4 81.22h0M898.4 82.09h0M899.4 82.97h0M900.4 83.85h0M901.4 84.73h0M902.4 85.61h0M903.4 86.48h0M904.4 87.36h0M905.4 88.32h0M906.4 89.36h0M907.4 90.47h0M908.4 91.62h0M909.4 92.79h0M910.4 93.95h0M911.4 95.08h0M912.4 96.17h0M913.4 97.18h0M914.4 98.1h0M915.4 98.91h0M916.4 99.57h0M917.4 100.07h0M918.4 100.39h0M919.4 100.5h0M920.4 100.33h0M921.4 100.11h0M922.4 100.52h0M923.4 101.66h0M924.4 102.65h0M925.4 103.51h0M926.4 104.36h0M927.4 105.2h0M928.4 106.03h0M929.4 106.83h0M930.4 107.61h0M931.4 108.38h0" fill="none" stroke="#7f7f7f" stroke-width="2.3" stroke-linecap="round"/>
<path d="M761.5 28.5 V156.8 H943.1" fill="none" stroke="#231f20" stroke-width="1.6"/>
<line x1="757.1" y1="144.7" x2="761.5" y2="144.7" stroke="#231f20" stroke-width="1.3"/>
<text transform="translate(752.2 149.6) scale(0.94 1)" font-size="14" text-anchor="end">1.0</text>
<line x1="758.9" y1="133.14" x2="761.5" y2="133.14" stroke="#231f20" stroke-width="1.1"/>
<line x1="757.1" y1="121.58" x2="761.5" y2="121.58" stroke="#231f20" stroke-width="1.3"/>
<text transform="translate(752.2 126.48) scale(0.94 1)" font-size="14" text-anchor="end">1.5</text>
<line x1="758.9" y1="110.02" x2="761.5" y2="110.02" stroke="#231f20" stroke-width="1.1"/>
<line x1="757.1" y1="98.46" x2="761.5" y2="98.46" stroke="#231f20" stroke-width="1.3"/>
<text transform="translate(752.2 103.36) scale(0.94 1)" font-size="14" text-anchor="end">2.0</text>
<line x1="758.9" y1="86.9" x2="761.5" y2="86.9" stroke="#231f20" stroke-width="1.1"/>
<line x1="757.1" y1="75.34" x2="761.5" y2="75.34" stroke="#231f20" stroke-width="1.3"/>
<text transform="translate(752.2 80.24) scale(0.94 1)" font-size="14" text-anchor="end">2.5</text>
<line x1="758.9" y1="63.78" x2="761.5" y2="63.78" stroke="#231f20" stroke-width="1.1"/>
<line x1="757.1" y1="52.22" x2="761.5" y2="52.22" stroke="#231f20" stroke-width="1.3"/>
<text transform="translate(752.2 57.12) scale(0.94 1)" font-size="14" text-anchor="end">3.0</text>
<line x1="758.9" y1="40.66" x2="761.5" y2="40.66" stroke="#231f20" stroke-width="1.1"/>
<line x1="757.1" y1="29.1" x2="761.5" y2="29.1" stroke="#231f20" stroke-width="1.3"/>
<text transform="translate(752.2 34) scale(0.94 1)" font-size="14" text-anchor="end">3.5</text>
<line x1="773.7" y1="156.8" x2="773.7" y2="159.8" stroke="#231f20" stroke-width="1.3"/>
<text transform="translate(773.7 175.3) scale(0.94 1)" font-size="14" text-anchor="middle">0</text>
<line x1="785.75" y1="156.8" x2="785.75" y2="158.6" stroke="#231f20" stroke-width="1.1"/>
<line x1="797.8" y1="156.8" x2="797.8" y2="159.8" stroke="#231f20" stroke-width="1.3"/>
<text transform="translate(797.8 175.3) scale(0.94 1)" font-size="14" text-anchor="middle">1</text>
<line x1="809.85" y1="156.8" x2="809.85" y2="158.6" stroke="#231f20" stroke-width="1.1"/>
<line x1="821.9" y1="156.8" x2="821.9" y2="159.8" stroke="#231f20" stroke-width="1.3"/>
<text transform="translate(821.9 175.3) scale(0.94 1)" font-size="14" text-anchor="middle">2</text>
<line x1="833.95" y1="156.8" x2="833.95" y2="158.6" stroke="#231f20" stroke-width="1.1"/>
<line x1="846" y1="156.8" x2="846" y2="159.8" stroke="#231f20" stroke-width="1.3"/>
<text transform="translate(846 175.3) scale(0.94 1)" font-size="14" text-anchor="middle">3</text>
<line x1="858.05" y1="156.8" x2="858.05" y2="158.6" stroke="#231f20" stroke-width="1.1"/>
<line x1="870.1" y1="156.8" x2="870.1" y2="159.8" stroke="#231f20" stroke-width="1.3"/>
<text transform="translate(870.1 175.3) scale(0.94 1)" font-size="14" text-anchor="middle">4</text>
<line x1="882.15" y1="156.8" x2="882.15" y2="158.6" stroke="#231f20" stroke-width="1.1"/>
<line x1="894.2" y1="156.8" x2="894.2" y2="159.8" stroke="#231f20" stroke-width="1.3"/>
<text transform="translate(894.2 175.3) scale(0.94 1)" font-size="14" text-anchor="middle">5</text>
<line x1="906.25" y1="156.8" x2="906.25" y2="158.6" stroke="#231f20" stroke-width="1.1"/>
<line x1="918.3" y1="156.8" x2="918.3" y2="159.8" stroke="#231f20" stroke-width="1.3"/>
<text transform="translate(918.3 175.3) scale(0.94 1)" font-size="14" text-anchor="middle">6</text>
<line x1="930.35" y1="156.8" x2="930.35" y2="158.6" stroke="#231f20" stroke-width="1.1"/>
<line x1="942.4" y1="156.8" x2="942.4" y2="159.8" stroke="#231f20" stroke-width="1.3"/>
<text transform="translate(942.4 175.3) scale(0.94 1)" font-size="14" text-anchor="middle">7</text>
<text x="851" y="194.1" font-size="13.1" text-anchor="middle">Time (min)</text>
<text transform="translate(721.9 87.2) rotate(-90)" font-size="13.3" text-anchor="middle">F\F<tspan font-size="9.4" dy="3.4">0</tspan><tspan dy="-3.4"> GCamP2-mt</tspan></text>
<text x="768.6" y="95.6" font-size="13.1">Cisplatin</text>
<line x1="802" y1="106.7" x2="802" y2="137" stroke="#231f20" stroke-width="1.3"/>
<path d="M798.98 132.8 L802 137 L805.02 132.8" fill="none" stroke="#231f20" stroke-width="1.3" stroke-linejoin="miter"/>
<line x1="767.4" y1="26.2" x2="795.2" y2="26.2" stroke="#7a7a7a" stroke-width="0.7"/>
<rect x="779.5" y="24.3" width="4.4" height="3.8" fill="#141213"/>
<text x="800.4" y="30.1" font-size="11">shCTL-OV90</text>
<line x1="767.4" y1="40.9" x2="795.2" y2="40.9" stroke="#cfcfcf" stroke-width="0.7"/>
<circle cx="781.7" cy="40.9" r="2.3" fill="#8a8a8a"/>
<text x="800.4" y="44.8" font-size="11">shMICU1-OV90</text>
</g>
<g id="pf">
<path d="M251.2 371.6V372.4M250.2 371.6h2M250.2 372.4h2M252.45 371.64V372.44M251.45 371.64h2M251.45 372.44h2M253.7 371.69V372.49M252.7 371.69h2M252.7 372.49h2M254.95 371.73V372.53M253.95 371.73h2M253.95 372.53h2M256.2 371.77V372.57M255.2 371.77h2M255.2 372.57h2M257.45 371.81V372.61M256.45 371.81h2M256.45 372.61h2M258.7 371.84V372.64M257.7 371.84h2M257.7 372.64h2M259.95 371.88V372.68M258.95 371.88h2M258.95 372.68h2M261.2 371.91V372.71M260.2 371.91h2M260.2 372.71h2M262.45 371.94V372.74M261.45 371.94h2M261.45 372.74h2M263.7 371.97V372.77M262.7 371.97h2M262.7 372.77h2M264.95 372V372.8M263.95 372h2M263.95 372.8h2M266.2 372.02V372.82M265.2 372.02h2M265.2 372.82h2M267.45 372.05V372.85M266.45 372.05h2M266.45 372.85h2M268.7 372.08V372.88M267.7 372.08h2M267.7 372.88h2M269.95 372.1V372.9M268.95 372.1h2M268.95 372.9h2M271.2 372.13V372.93M270.2 372.13h2M270.2 372.93h2M272.45 372.15V372.95M271.45 372.15h2M271.45 372.95h2M273.7 372.17V372.97M272.7 372.17h2M272.7 372.97h2M274.95 372.18V372.98M273.95 372.18h2M273.95 372.98h2M276.2 372.19V372.99M275.2 372.19h2M275.2 372.99h2M277.45 372.2V373M276.45 372.2h2M276.45 373h2M278.7 372.19V372.99M277.7 372.19h2M277.7 372.99h2M279.95 372.15V372.95M278.95 372.15h2M278.95 372.95h2M281.2 372.07V372.87M280.2 372.07h2M280.2 372.87h2M282.45 371.95V372.75M281.45 371.95h2M281.45 372.75h2M283.7 371.78V372.58M282.7 371.78h2M282.7 372.58h2M284.95 371.13V372.01M283.95 371.13h2M283.95 372.01h2M286.2 369.83V370.83M285.2 369.83h2M285.2 370.83h2M287.45 367.45V368.56M286.45 367.45h2M286.45 368.56h2M288.7 362.51V363.73M287.7 362.51h2M287.7 363.73h2M289.95 357.09V358.43M288.95 357.09h2M288.95 358.43h2M291.2 351.27V352.73M290.2 351.27h2M290.2 352.73h2M292.45 346.18V347.75M291.45 346.18h2M291.45 347.75h2M293.7 341.96V343.65M292.7 341.96h2M292.7 343.65h2M294.95 337.66V339.46M293.95 337.66h2M293.95 339.46h2M296.2 332.78V335.04M295.2 332.78h2M295.2 335.04h2M297.45 327.73V330.48M296.45 327.73h2M296.45 330.48h2M298.7 322.37V325.6M297.7 322.37h2M297.7 325.6h2M299.95 317.38V321.09M298.95 317.38h2M298.95 321.09h2M301.2 313.15V317.35M300.2 313.15h2M300.2 317.35h2M302.45 309.38V314.06M301.45 309.38h2M301.45 314.06h2M303.7 306.09V311.25M302.7 306.09h2M302.7 311.25h2M304.95 303.05V308.7M303.95 303.05h2M303.95 308.7h2M306.2 300.26V306.39M305.2 300.26h2M305.2 306.39h2M307.45 297.8V304.41M306.45 297.8h2M306.45 304.41h2M308.7 295.75V302.85M307.7 295.75h2M307.7 302.85h2M309.95 293.93V301.51M308.95 293.93h2M308.95 301.51h2M311.2 292.4V300.18M310.2 292.4h2M310.2 300.18h2M312.45 291.03V299M311.45 291.03h2M311.45 299h2M313.7 289.84V298M312.7 289.84h2M312.7 298h2M314.95 288.84V297.19M313.95 288.84h2M313.95 297.19h2M316.2 288V296.55M315.2 288h2M315.2 296.55h2M317.45 287.21V295.94M316.45 287.21h2M316.45 295.94h2M318.7 286.48V295.41M317.7 286.48h2M317.7 295.41h2M319.95 285.83V294.95M318.95 285.83h2M318.95 294.95h2M321.2 285.29V294.6M320.2 285.29h2M320.2 294.6h2M322.45 284.88V294.37M321.45 284.88h2M321.45 294.37h2M323.7 284.59V294.28M322.7 284.59h2M322.7 294.28h2M324.95 284.35V294.23M323.95 284.35h2M323.95 294.23h2M326.2 284.12V294.19M325.2 284.12h2M325.2 294.19h2M327.45 283.92V294.18M326.45 283.92h2M326.45 294.18h2M328.7 283.74V294.19M327.7 283.74h2M327.7 294.19h2M329.95 283.6V294.24M328.95 283.6h2M328.95 294.24h2M331.2 283.51V294.29M330.2 283.51h2M330.2 294.29h2M332.45 283.6V294.3M331.45 283.6h2M331.45 294.3h2M333.7 283.76V294.37M332.7 283.76h2M332.7 294.37h2M334.95 283.99V294.51M333.95 283.99h2M333.95 294.51h2M336.2 284.27V294.7M335.2 284.27h2M335.2 294.7h2M337.45 284.58V294.92M336.45 284.58h2M336.45 294.92h2M338.7 284.92V295.17M337.7 284.92h2M337.7 295.17h2M339.95 285.28V295.44M338.95 285.28h2M338.95 295.44h2M341.2 285.64V295.71M340.2 285.64h2M340.2 295.71h2M342.45 286.07V296.05M341.45 286.07h2M341.45 296.05h2M343.7 286.59V296.48M342.7 286.59h2M342.7 296.48h2M344.95 287.18V296.98M343.95 287.18h2M343.95 296.98h2M346.2 287.83V297.54M345.2 287.83h2M345.2 297.54h2M347.45 288.53V298.14M346.45 288.53h2M346.45 298.14h2M348.7 289.26V298.79M347.7 289.26h2M347.7 298.79h2M349.95 290.01V299.45M348.95 290.01h2M348.95 299.45h2M351.2 290.77V300.12M350.2 290.77h2M350.2 300.12h2M352.45 291.53V300.79M351.45 291.53h2M351.45 300.79h2M353.7 292.29V301.46M352.7 292.29h2M352.7 301.46h2M354.95 293.09V302.17M353.95 293.09h2M353.95 302.17h2M356.2 293.93V302.92M355.2 293.93h2M355.2 302.92h2M357.45 294.8V303.7M356.45 294.8h2M356.45 303.7h2M358.7 295.7V304.51M357.7 295.7h2M357.7 304.51h2M359.95 296.61V305.33M358.95 296.61h2M358.95 305.33h2M361.2 297.55V306.18M360.2 297.55h2M360.2 306.18h2M362.45 298.5V307.04M361.45 298.5h2M361.45 307.04h2M363.7 299.45V307.9M362.7 299.45h2M362.7 307.9h2M364.95 300.41V308.77M363.95 300.41h2M363.95 308.77h2M366.2 301.37V309.64M365.2 301.37h2M365.2 309.64h2M367.45 302.32V310.51M366.45 302.32h2M366.45 310.51h2M368.7 303.27V311.36M367.7 303.27h2M367.7 311.36h2M369.95 304.21V312.22M368.95 304.21h2M368.95 312.22h2M371.2 305.17V313.08M370.2 305.17h2M370.2 313.08h2M372.45 306.13V313.95M371.45 306.13h2M371.45 313.95h2M373.7 307.1V314.83M372.7 307.1h2M372.7 314.83h2M374.95 308.07V315.72M373.95 308.07h2M373.95 315.72h2M376.2 309.05V316.61M375.2 309.05h2M375.2 316.61h2M377.45 310.04V317.5M376.45 310.04h2M376.45 317.5h2M378.7 311.02V318.4M377.7 311.02h2M377.7 318.4h2M379.95 312.02V319.3M378.95 312.02h2M378.95 319.3h2M381.2 313.01V320.21M380.2 313.01h2M380.2 320.21h2M382.45 314.01V321.12M381.45 314.01h2M381.45 321.12h2M383.7 315.01V322.03M382.7 315.01h2M382.7 322.03h2M384.95 316.01V322.94M383.95 316.01h2M383.95 322.94h2M386.2 317.02V323.85M385.2 317.02h2M385.2 323.85h2M387.45 318.02V324.77M386.45 318.02h2M386.45 324.77h2M388.7 319.04V325.69M387.7 319.04h2M387.7 325.69h2M389.95 320.05V326.62M388.95 320.05h2M388.95 326.62h2M391.2 321.07V327.55M390.2 321.07h2M390.2 327.55h2M392.45 322.1V328.49M391.45 322.1h2M391.45 328.49h2M393.7 323.13V329.42M392.7 323.13h2M392.7 329.42h2M394.95 324.16V330.37M393.95 324.16h2M393.95 330.37h2M396.2 325.2V331.32M395.2 325.2h2M395.2 331.32h2M397.45 326.24V332.27M396.45 326.24h2M396.45 332.27h2M398.7 327.29V333.23M397.7 327.29h2M397.7 333.23h2M399.95 328.35V334.2M398.95 328.35h2M398.95 334.2h2M401.2 329.41V335.17M400.2 329.41h2M400.2 335.17h2M402.45 330.48V336.15M401.45 330.48h2M401.45 336.15h2M403.7 331.56V337.14M402.7 331.56h2M402.7 337.14h2M404.95 332.63V338.13M403.95 332.63h2M403.95 338.13h2M406.2 333.72V339.12M405.2 333.72h2M405.2 339.12h2M407.45 334.81V340.12M406.45 334.81h2M406.45 340.12h2M408.7 335.91V341.13M407.7 335.91h2M407.7 341.13h2" fill="none" stroke="#a6a6a6" stroke-width="0.7"/>
<path d="M303.2 307.35 L303.7 306.09 L304.2 304.85 L304.7 303.64 L305.2 302.47 L305.7 301.34 L306.2 300.26 L306.7 299.23 L307.2 298.26 L307.7 297.36 L308.2 296.52 L308.7 295.75 L309.2 295.01 L309.7 294.29 L310.2 293.61 L310.7 292.99 L311.2 292.4 L311.7 291.83 L312.2 291.29 L312.7 290.78 L313.2 290.29 L313.7 289.84 L314.2 289.41 L314.7 289.02 L315.2 288.66 L315.7 288.33 L316.2 288 L316.7 287.68 L317.2 287.36 L317.7 287.06 L318.2 286.76 L318.7 286.48 L319.2 286.21 L319.7 285.96 L320.2 285.72 L320.7 285.5 L321.2 285.29 L321.7 285.11 L322.2 284.95 L322.7 284.81 L323.2 284.69 L323.7 284.59 L324.2 284.49 L324.7 284.4 L325.2 284.3 L325.7 284.21 L326.2 284.12 L326.7 284.04 L327.2 283.96 L327.7 283.88 L328.2 283.81 L328.7 283.74 L329.2 283.68 L329.7 283.62 L330.2 283.57 L330.7 283.52 L331.2 283.51 L331.7 283.53 L332.2 283.57 L332.7 283.63 L333.2 283.69 L333.7 283.76 L334.2 283.85 L334.7 283.94 L335.2 284.04 L335.7 284.15 L336.2 284.27 L336.7 284.39 L337.2 284.52 L337.7 284.65 L338.2 284.79 L338.7 284.92 L339.2 285.07 L339.7 285.21 L340.2 285.35 L340.7 285.5 L341.2 285.64 L341.7 285.81 L342.2 285.98 L342.7 286.17 L343.2 286.38 L343.7 286.59 L344.2 286.82 L344.7 287.06 L345.2 287.31 L345.7 287.56 L346.2 287.83 L346.7 288.1 L347.2 288.38 L347.7 288.67 L348.2 288.96 L348.7 289.26 L349.2 289.56 L349.7 289.86 L350.2 290.16 L350.7 290.47 L351.2 290.77 L351.7 291.08 L352.2 291.38 L352.7 291.68 L353.2 291.98 L353.7 292.29 L354.2 292.61 L354.7 292.93 L355.2 293.26 L355.7 293.59 L356.2 293.93 L356.7 294.28 L357.2 294.62 L357.7 294.98 L358.2 295.33 L358.7 295.7 L359.2 296.06 L359.7 296.43 L360.2 296.8 L360.7 297.17 L361.2 297.55 L361.7 297.93 L362.2 298.31 L362.7 298.69 L363.2 299.07 L363.7 299.45 L364.2 299.84 L364.7 300.22 L365.2 300.6 L365.7 300.99 L366.2 301.37 L366.7 301.75 L367.2 302.13 L367.7 302.51 L368.2 302.89 L368.7 303.27 L369.2 303.65 L369.7 304.02 L370.2 304.4 L370.7 304.79 L371.2 305.17 L371.7 305.55 L372.2 305.94 L372.7 306.32 L373.2 306.71 L373.7 307.1 L374.2 307.49 L374.7 307.88 L375.2 308.27 L375.7 308.66 L376.2 309.05 L376.7 309.44 L377.2 309.84 L377.7 310.23 L378.2 310.63 L378.7 311.02 L379.2 311.42 L379.7 311.82 L380.2 312.22 L380.7 312.61 L381.2 313.01 L381.7 313.41 L382.2 313.81 L382.7 314.21 L383.2 314.61 L383.7 315.01 L384.2 315.41 L384.7 315.81 L385.2 316.21 L385.7 316.61 L386.2 317.02 L386.7 317.42 L387.2 317.82 L387.7 318.23 L388.2 318.63 L388.7 319.04 L389.2 319.44 L389.7 319.85 L390.2 320.26 L390.7 320.66 L391.2 321.07 L391.7 321.48 L392.2 321.89 L392.7 322.3 L393.2 322.71 L393.7 323.13 L394.2 323.54 L394.7 323.95 L395.2 324.37 L395.7 324.78 L396.2 325.2 L396.7 325.62 L397.2 326.03 L397.7 326.45 L398.2 326.87 L398.7 327.29 L399.2 327.72 L399.7 328.14 L400.2 328.56 L400.7 328.99 L401.2 329.41 L401.7 329.84 L402.2 330.27 L402.7 330.7 L403.2 331.12 L403.7 331.56 L404.2 331.99 L404.7 332.42 L405.2 332.85 L405.7 333.29 L406.2 333.72 L406.7 334.16 L407.2 334.59 L407.7 335.03 L408.2 335.47 L408.7 335.91 L408.7 341.13 L408.2 340.72 L407.7 340.32 L407.2 339.92 L406.7 339.52 L406.2 339.12 L405.7 338.72 L405.2 338.32 L404.7 337.93 L404.2 337.53 L403.7 337.14 L403.2 336.74 L402.7 336.35 L402.2 335.96 L401.7 335.56 L401.2 335.17 L400.7 334.78 L400.2 334.39 L399.7 334.01 L399.2 333.62 L398.7 333.23 L398.2 332.85 L397.7 332.46 L397.2 332.08 L396.7 331.7 L396.2 331.32 L395.7 330.94 L395.2 330.56 L394.7 330.18 L394.2 329.8 L393.7 329.42 L393.2 329.05 L392.7 328.67 L392.2 328.3 L391.7 327.92 L391.2 327.55 L390.7 327.18 L390.2 326.81 L389.7 326.43 L389.2 326.06 L388.7 325.69 L388.2 325.32 L387.7 324.95 L387.2 324.59 L386.7 324.22 L386.2 323.85 L385.7 323.49 L385.2 323.12 L384.7 322.75 L384.2 322.39 L383.7 322.03 L383.2 321.66 L382.7 321.3 L382.2 320.93 L381.7 320.57 L381.2 320.21 L380.7 319.85 L380.2 319.48 L379.7 319.12 L379.2 318.76 L378.7 318.4 L378.2 318.04 L377.7 317.68 L377.2 317.32 L376.7 316.96 L376.2 316.61 L375.7 316.25 L375.2 315.89 L374.7 315.54 L374.2 315.19 L373.7 314.83 L373.2 314.48 L372.7 314.13 L372.2 313.78 L371.7 313.43 L371.2 313.08 L370.7 312.74 L370.2 312.39 L369.7 312.05 L369.2 311.7 L368.7 311.36 L368.2 311.02 L367.7 310.68 L367.2 310.34 L366.7 309.99 L366.2 309.64 L365.7 309.3 L365.2 308.95 L364.7 308.6 L364.2 308.25 L363.7 307.9 L363.2 307.56 L362.7 307.21 L362.2 306.87 L361.7 306.52 L361.2 306.18 L360.7 305.84 L360.2 305.5 L359.7 305.17 L359.2 304.84 L358.7 304.51 L358.2 304.18 L357.7 303.86 L357.2 303.54 L356.7 303.23 L356.2 302.92 L355.7 302.62 L355.2 302.32 L354.7 302.03 L354.2 301.74 L353.7 301.46 L353.2 301.19 L352.7 300.92 L352.2 300.66 L351.7 300.39 L351.2 300.12 L350.7 299.85 L350.2 299.58 L349.7 299.31 L349.2 299.05 L348.7 298.79 L348.2 298.53 L347.7 298.27 L347.2 298.02 L346.7 297.78 L346.2 297.54 L345.7 297.31 L345.2 297.09 L344.7 296.87 L344.2 296.67 L343.7 296.48 L343.2 296.3 L342.7 296.13 L342.2 295.98 L341.7 295.84 L341.2 295.71 L340.7 295.6 L340.2 295.49 L339.7 295.38 L339.2 295.28 L338.7 295.17 L338.2 295.07 L337.7 294.97 L337.2 294.87 L336.7 294.78 L336.2 294.7 L335.7 294.62 L335.2 294.54 L334.7 294.48 L334.2 294.42 L333.7 294.37 L333.2 294.33 L332.7 294.31 L332.2 294.29 L331.7 294.28 L331.2 294.29 L330.7 294.28 L330.2 294.25 L329.7 294.22 L329.2 294.21 L328.7 294.19 L328.2 294.18 L327.7 294.18 L327.2 294.18 L326.7 294.18 L326.2 294.19 L325.7 294.2 L325.2 294.22 L324.7 294.24 L324.2 294.26 L323.7 294.28 L323.2 294.31 L322.7 294.34 L322.2 294.41 L321.7 294.49 L321.2 294.6 L320.7 294.73 L320.2 294.87 L319.7 295.03 L319.2 295.21 L318.7 295.41 L318.2 295.61 L317.7 295.83 L317.2 296.06 L316.7 296.3 L316.2 296.55 L315.7 296.8 L315.2 297.06 L314.7 297.34 L314.2 297.65 L313.7 298 L313.2 298.38 L312.7 298.79 L312.2 299.22 L311.7 299.69 L311.2 300.18 L310.7 300.7 L310.2 301.24 L309.7 301.77 L309.2 302.3 L308.7 302.85 L308.2 303.43 L307.7 304.07 L307.2 304.78 L306.7 305.55 L306.2 306.39 L305.7 307.28 L305.2 308.21 L304.7 309.19 L304.2 310.2 L303.7 311.25 L303.2 312.32Z" fill="#d6d6d6" stroke="none" stroke-width="0"/>
<path d="M251.2 371.6V372.4M250.2 371.6h2M250.2 372.4h2M252.45 371.64V372.44M251.45 371.64h2M251.45 372.44h2M253.7 371.69V372.49M252.7 371.69h2M252.7 372.49h2M254.95 371.73V372.53M253.95 371.73h2M253.95 372.53h2M256.2 371.77V372.57M255.2 371.77h2M255.2 372.57h2M257.45 371.81V372.61M256.45 371.81h2M256.45 372.61h2M258.7 371.84V372.64M257.7 371.84h2M257.7 372.64h2M259.95 371.88V372.68M258.95 371.88h2M258.95 372.68h2M261.2 371.91V372.71M260.2 371.91h2M260.2 372.71h2M262.45 371.94V372.74M261.45 371.94h2M261.45 372.74h2M263.7 371.97V372.77M262.7 371.97h2M262.7 372.77h2M264.95 372V372.8M263.95 372h2M263.95 372.8h2M266.2 372.02V372.82M265.2 372.02h2M265.2 372.82h2M267.45 372.05V372.85M266.45 372.05h2M266.45 372.85h2M268.7 372.08V372.88M267.7 372.08h2M267.7 372.88h2M269.95 372.1V372.9M268.95 372.1h2M268.95 372.9h2M271.2 372.13V372.93M270.2 372.13h2M270.2 372.93h2M272.45 372.15V372.95M271.45 372.15h2M271.45 372.95h2M273.7 372.17V372.97M272.7 372.17h2M272.7 372.97h2M274.95 372.18V372.98M273.95 372.18h2M273.95 372.98h2M276.2 372.19V372.99M275.2 372.19h2M275.2 372.99h2M277.45 372.2V373M276.45 372.2h2M276.45 373h2M278.7 372.19V372.99M277.7 372.19h2M277.7 372.99h2M279.95 372.15V372.95M278.95 372.15h2M278.95 372.95h2M281.2 372.07V372.87M280.2 372.07h2M280.2 372.87h2M282.45 371.95V372.75M281.45 371.95h2M281.45 372.75h2M283.7 371.78V372.58M282.7 371.78h2M282.7 372.58h2M284.95 371.13V372.01M283.95 371.13h2M283.95 372.01h2M286.2 369.83V370.83M285.2 369.83h2M285.2 370.83h2M287.45 367.45V368.56M286.45 367.45h2M286.45 368.56h2M288.7 362.51V363.73M287.7 362.51h2M287.7 363.73h2M289.95 357.09V358.43M288.95 357.09h2M288.95 358.43h2M291.2 351.27V352.73M290.2 351.27h2M290.2 352.73h2M292.45 346.18V347.75M291.45 346.18h2M291.45 347.75h2M293.7 341.96V343.65M292.7 341.96h2M292.7 343.65h2M294.95 337.66V339.46M293.95 337.66h2M293.95 339.46h2M296.2 332.78V335.04M295.2 332.78h2M295.2 335.04h2M297.45 327.73V330.48M296.45 327.73h2M296.45 330.48h2M298.7 322.37V325.6M297.7 322.37h2M297.7 325.6h2M299.95 317.38V321.09M298.95 317.38h2M298.95 321.09h2M301.2 313.15V317.35M300.2 313.15h2M300.2 317.35h2M302.45 309.38V314.06M301.45 309.38h2M301.45 314.06h2M303.7 306.09V311.25M302.7 306.09h2M302.7 311.25h2M304.95 303.05V308.7M303.95 303.05h2M303.95 308.7h2M306.2 300.26V306.39M305.2 300.26h2M305.2 306.39h2M307.45 297.8V304.41M306.45 297.8h2M306.45 304.41h2M308.7 295.75V302.85M307.7 295.75h2M307.7 302.85h2M309.95 293.93V301.51M308.95 293.93h2M308.95 301.51h2M311.2 292.4V300.18M310.2 292.4h2M310.2 300.18h2M312.45 291.03V299M311.45 291.03h2M311.45 299h2M313.7 289.84V298M312.7 289.84h2M312.7 298h2M314.95 288.84V297.19M313.95 288.84h2M313.95 297.19h2M316.2 288V296.55M315.2 288h2M315.2 296.55h2M317.45 287.21V295.94M316.45 287.21h2M316.45 295.94h2M318.7 286.48V295.41M317.7 286.48h2M317.7 295.41h2M319.95 285.83V294.95M318.95 285.83h2M318.95 294.95h2M321.2 285.29V294.6M320.2 285.29h2M320.2 294.6h2M322.45 284.88V294.37M321.45 284.88h2M321.45 294.37h2M323.7 284.59V294.28M322.7 284.59h2M322.7 294.28h2M324.95 284.35V294.23M323.95 284.35h2M323.95 294.23h2M326.2 284.12V294.19M325.2 284.12h2M325.2 294.19h2M327.45 283.92V294.18M326.45 283.92h2M326.45 294.18h2M328.7 283.74V294.19M327.7 283.74h2M327.7 294.19h2M329.95 283.6V294.24M328.95 283.6h2M328.95 294.24h2M331.2 283.51V294.29M330.2 283.51h2M330.2 294.29h2M332.45 283.6V294.3M331.45 283.6h2M331.45 294.3h2M333.7 283.76V294.37M332.7 283.76h2M332.7 294.37h2M334.95 283.99V294.51M333.95 283.99h2M333.95 294.51h2M336.2 284.27V294.7M335.2 284.27h2M335.2 294.7h2M337.45 284.58V294.92M336.45 284.58h2M336.45 294.92h2M338.7 284.92V295.17M337.7 284.92h2M337.7 295.17h2M339.95 285.28V295.44M338.95 285.28h2M338.95 295.44h2M341.2 285.64V295.71M340.2 285.64h2M340.2 295.71h2M342.45 286.07V296.05M341.45 286.07h2M341.45 296.05h2M343.7 286.59V296.48M342.7 286.59h2M342.7 296.48h2M344.95 287.18V296.98M343.95 287.18h2M343.95 296.98h2M346.2 287.83V297.54M345.2 287.83h2M345.2 297.54h2M347.45 288.53V298.14M346.45 288.53h2M346.45 298.14h2M348.7 289.26V298.79M347.7 289.26h2M347.7 298.79h2M349.95 290.01V299.45M348.95 290.01h2M348.95 299.45h2M351.2 290.77V300.12M350.2 290.77h2M350.2 300.12h2M352.45 291.53V300.79M351.45 291.53h2M351.45 300.79h2M353.7 292.29V301.46M352.7 292.29h2M352.7 301.46h2M354.95 293.09V302.17M353.95 293.09h2M353.95 302.17h2M356.2 293.93V302.92M355.2 293.93h2M355.2 302.92h2M357.45 294.8V303.7M356.45 294.8h2M356.45 303.7h2M358.7 295.7V304.51M357.7 295.7h2M357.7 304.51h2M359.95 296.61V305.33M358.95 296.61h2M358.95 305.33h2M361.2 297.55V306.18M360.2 297.55h2M360.2 306.18h2M362.45 298.5V307.04M361.45 298.5h2M361.45 307.04h2M363.7 299.45V307.9M362.7 299.45h2M362.7 307.9h2M364.95 300.41V308.77M363.95 300.41h2M363.95 308.77h2M366.2 301.37V309.64M365.2 301.37h2M365.2 309.64h2M367.45 302.32V310.51M366.45 302.32h2M366.45 310.51h2M368.7 303.27V311.36M367.7 303.27h2M367.7 311.36h2M369.95 304.21V312.22M368.95 304.21h2M368.95 312.22h2M371.2 305.17V313.08M370.2 305.17h2M370.2 313.08h2M372.45 306.13V313.95M371.45 306.13h2M371.45 313.95h2M373.7 307.1V314.83M372.7 307.1h2M372.7 314.83h2M374.95 308.07V315.72M373.95 308.07h2M373.95 315.72h2M376.2 309.05V316.61M375.2 309.05h2M375.2 316.61h2M377.45 310.04V317.5M376.45 310.04h2M376.45 317.5h2M378.7 311.02V318.4M377.7 311.02h2M377.7 318.4h2M379.95 312.02V319.3M378.95 312.02h2M378.95 319.3h2M381.2 313.01V320.21M380.2 313.01h2M380.2 320.21h2M382.45 314.01V321.12M381.45 314.01h2M381.45 321.12h2M383.7 315.01V322.03M382.7 315.01h2M382.7 322.03h2M384.95 316.01V322.94M383.95 316.01h2M383.95 322.94h2M386.2 317.02V323.85M385.2 317.02h2M385.2 323.85h2M387.45 318.02V324.77M386.45 318.02h2M386.45 324.77h2M388.7 319.04V325.69M387.7 319.04h2M387.7 325.69h2M389.95 320.05V326.62M388.95 320.05h2M388.95 326.62h2M391.2 321.07V327.55M390.2 321.07h2M390.2 327.55h2M392.45 322.1V328.49M391.45 322.1h2M391.45 328.49h2M393.7 323.13V329.42M392.7 323.13h2M392.7 329.42h2M394.95 324.16V330.37M393.95 324.16h2M393.95 330.37h2M396.2 325.2V331.32M395.2 325.2h2M395.2 331.32h2M397.45 326.24V332.27M396.45 326.24h2M396.45 332.27h2M398.7 327.29V333.23M397.7 327.29h2M397.7 333.23h2M399.95 328.35V334.2M398.95 328.35h2M398.95 334.2h2M401.2 329.41V335.17M400.2 329.41h2M400.2 335.17h2M402.45 330.48V336.15M401.45 330.48h2M401.45 336.15h2M403.7 331.56V337.14M402.7 331.56h2M402.7 337.14h2M404.95 332.63V338.13M403.95 332.63h2M403.95 338.13h2M406.2 333.72V339.12M405.2 333.72h2M405.2 339.12h2M407.45 334.81V340.12M406.45 334.81h2M406.45 340.12h2M408.7 335.91V341.13M407.7 335.91h2M407.7 341.13h2" fill="none" stroke="#a6a6a6" stroke-width="0.7"/>
<path d="M303.7 306.09 L304.95 303.05 L306.2 300.26 L307.45 297.8 L308.7 295.75 L309.95 293.93 L311.2 292.4 L312.45 291.03 L313.7 289.84 L314.95 288.84 L316.2 288 L317.45 287.21 L318.7 286.48 L319.95 285.83 L321.2 285.29 L322.45 284.88 L323.7 284.59 L324.95 284.35 L326.2 284.12 L327.45 283.92 L328.7 283.74 L329.95 283.6 L331.2 283.51 L332.45 283.6 L333.7 283.76 L334.95 283.99 L336.2 284.27 L337.45 284.58 L338.7 284.92 L339.95 285.28 L341.2 285.64 L342.45 286.07 L343.7 286.59 L344.95 287.18 L346.2 287.83 L347.45 288.53 L348.7 289.26 L349.95 290.01 L351.2 290.77 L352.45 291.53 L353.7 292.29 L354.95 293.09 L356.2 293.93 L357.45 294.8 L358.7 295.7 L359.95 296.61 L361.2 297.55 L362.45 298.5 L363.7 299.45 L364.95 300.41 L366.2 301.37 L367.45 302.32 L368.7 303.27 L369.95 304.21 L371.2 305.17 L372.45 306.13 L373.7 307.1 L374.95 308.07 L376.2 309.05 L377.45 310.04 L378.7 311.02 L379.95 312.02 L381.2 313.01 L382.45 314.01 L383.7 315.01 L384.95 316.01 L386.2 317.02 L387.45 318.02 L388.7 319.04 L389.95 320.05 L391.2 321.07 L392.45 322.1 L393.7 323.13 L394.95 324.16 L396.2 325.2 L397.45 326.24 L398.7 327.29 L399.95 328.35 L401.2 329.41 L402.45 330.48 L403.7 331.56 L404.95 332.63 L406.2 333.72 L407.45 334.81 L408.7 335.91" fill="none" stroke="#8c8c8c" stroke-width="0.7"/>
<path d="M303.7 311.25 L304.95 308.7 L306.2 306.39 L307.45 304.41 L308.7 302.85 L309.95 301.51 L311.2 300.18 L312.45 299 L313.7 298 L314.95 297.19 L316.2 296.55 L317.45 295.94 L318.7 295.41 L319.95 294.95 L321.2 294.6 L322.45 294.37 L323.7 294.28 L324.95 294.23 L326.2 294.19 L327.45 294.18 L328.7 294.19 L329.95 294.24 L331.2 294.29 L332.45 294.3 L333.7 294.37 L334.95 294.51 L336.2 294.7 L337.45 294.92 L338.7 295.17 L339.95 295.44 L341.2 295.71 L342.45 296.05 L343.7 296.48 L344.95 296.98 L346.2 297.54 L347.45 298.14 L348.7 298.79 L349.95 299.45 L351.2 300.12 L352.45 300.79 L353.7 301.46 L354.95 302.17 L356.2 302.92 L357.45 303.7 L358.7 304.51 L359.95 305.33 L361.2 306.18 L362.45 307.04 L363.7 307.9 L364.95 308.77 L366.2 309.64 L367.45 310.51 L368.7 311.36 L369.95 312.22 L371.2 313.08 L372.45 313.95 L373.7 314.83 L374.95 315.72 L376.2 316.61 L377.45 317.5 L378.7 318.4 L379.95 319.3 L381.2 320.21 L382.45 321.12 L383.7 322.03 L384.95 322.94 L386.2 323.85 L387.45 324.77 L388.7 325.69 L389.95 326.62 L391.2 327.55 L392.45 328.49 L393.7 329.42 L394.95 330.37 L396.2 331.32 L397.45 332.27 L398.7 333.23 L399.95 334.2 L401.2 335.17 L402.45 336.15 L403.7 337.14 L404.95 338.13 L406.2 339.12 L407.45 340.12 L408.7 341.13" fill="none" stroke="#8c8c8c" stroke-width="0.7"/>
<path d="M251.2 372h0M252.45 372.04h0M253.7 372.09h0M254.95 372.13h0M256.2 372.17h0M257.45 372.21h0M258.7 372.24h0M259.95 372.28h0M261.2 372.31h0M262.45 372.34h0M263.7 372.37h0M264.95 372.4h0M266.2 372.42h0M267.45 372.45h0M268.7 372.48h0M269.95 372.5h0M271.2 372.53h0M272.45 372.55h0M273.7 372.57h0M274.95 372.58h0M276.2 372.59h0M277.45 372.6h0M278.7 372.59h0M279.95 372.55h0M281.2 372.47h0M282.45 372.35h0M283.7 372.18h0M284.95 371.57h0M286.2 370.33h0M287.45 368h0M288.7 363.12h0M289.95 357.76h0M291.2 352h0M292.45 346.97h0M293.7 342.81h0M294.95 338.56h0M296.2 333.91h0M297.45 329.11h0M298.7 323.99h0M299.95 319.23h0M301.2 315.25h0M302.45 311.72h0M303.7 308.67h0M304.95 305.87h0M306.2 303.32h0M307.45 301.11h0M308.7 299.3h0M309.95 297.72h0M311.2 296.29h0M312.45 295.02h0M313.7 293.92h0M314.95 293.02h0M316.2 292.27h0M317.45 291.58h0M318.7 290.94h0M319.95 290.39h0M321.2 289.95h0M322.45 289.62h0M323.7 289.44h0M324.95 289.29h0M326.2 289.16h0M327.45 289.05h0M328.7 288.97h0M329.95 288.92h0M331.2 288.9h0M332.45 288.95h0M333.7 289.07h0M334.95 289.25h0M336.2 289.48h0M337.45 289.75h0M338.7 290.05h0M339.95 290.36h0M341.2 290.68h0M342.45 291.06h0M343.7 291.54h0M344.95 292.08h0M346.2 292.68h0M347.45 293.33h0M348.7 294.02h0M349.95 294.73h0M351.2 295.45h0M352.45 296.16h0M353.7 296.88h0M354.95 297.63h0M356.2 298.43h0M357.45 299.25h0M358.7 300.1h0M359.95 300.97h0M361.2 301.86h0M362.45 302.77h0M363.7 303.68h0M364.95 304.59h0M366.2 305.51h0M367.45 306.42h0M368.7 307.32h0M369.95 308.22h0M371.2 309.13h0M372.45 310.04h0M373.7 310.97h0M374.95 311.89h0M376.2 312.83h0M377.45 313.77h0M378.7 314.71h0M379.95 315.66h0M381.2 316.61h0M382.45 317.56h0M383.7 318.52h0M384.95 319.47h0M386.2 320.43h0M387.45 321.4h0M388.7 322.36h0M389.95 323.34h0M391.2 324.31h0M392.45 325.29h0M393.7 326.28h0M394.95 327.26h0M396.2 328.26h0M397.45 329.26h0M398.7 330.26h0M399.95 331.27h0M401.2 332.29h0M402.45 333.32h0M403.7 334.35h0M404.95 335.38h0M406.2 336.42h0M407.45 337.47h0M408.7 338.52h0" fill="none" stroke="#141213" stroke-width="2" stroke-linecap="square"/>
<path d="M286.2 370.33h0M287.45 368h0M288.7 363.12h0M289.95 357.76h0M291.2 352h0M292.45 346.97h0M293.7 342.81h0M294.95 338.56h0M296.2 333.91h0M297.45 329.11h0M298.7 323.99h0M299.95 319.23h0M301.2 315.25h0M302.45 311.72h0M303.7 308.67h0M304.95 305.87h0" fill="none" stroke="#141213" stroke-width="2.6" stroke-linecap="square"/>
<path d="M251.2 372.2h0M252.15 372.22h0M253.1 372.25h0M254.05 372.27h0M255 372.29h0M255.95 372.31h0M256.9 372.34h0M257.85 372.36h0M258.8 372.38h0M259.75 372.4h0M260.7 372.42h0M261.65 372.44h0M262.6 372.46h0M263.55 372.47h0M264.5 372.49h0M265.45 372.51h0M266.4 372.53h0M267.35 372.55h0M268.3 372.57h0M269.25 372.58h0M270.2 372.6h0M271.15 372.62h0M272.1 372.64h0M273.05 372.66h0M274 372.67h0M274.95 372.68h0M275.9 372.69h0M276.85 372.7h0M277.8 372.7h0M278.75 372.69h0M279.7 372.67h0M280.65 372.63h0M281.6 372.57h0M282.55 372.49h0M283.5 372.39h0M284.45 372.28h0M285.4 372.15h0M286.35 372.01h0M287.3 371.86h0M288.25 371.69h0M289.2 371.47h0M290.15 371.06h0M291.1 370.5h0M292.05 369.86h0M293 369.18h0M293.95 368.34h0M294.9 367.38h0M295.85 366.37h0M296.8 365.4h0M297.75 364.46h0M298.7 363.48h0M299.65 362.48h0M300.6 361.5h0M301.55 360.54h0M302.5 359.63h0M303.45 358.78h0M304.4 358.02h0M305.35 357.33h0M306.3 356.66h0M307.25 356.03h0M308.2 355.49h0M309.15 355.07h0M310.1 354.8h0M311.05 354.57h0M312 354.37h0M312.95 354.2h0M313.9 354.07h0M314.85 354.01h0M315.8 354.01h0M316.75 354.09h0M317.7 354.22h0M318.65 354.39h0M319.6 354.59h0M320.55 354.8h0M321.5 355.02h0M322.45 355.28h0M323.4 355.59h0M324.35 355.94h0M325.3 356.3h0M326.25 356.66h0M327.2 357.04h0M328.15 357.45h0M329.1 357.88h0M330.05 358.32h0M331 358.79h0M331.95 359.26h0M332.9 359.73h0M333.85 360.21h0M334.8 360.67h0M335.75 361.13h0M336.7 361.57h0M337.65 361.99h0M338.6 362.38h0M339.55 362.75h0M340.5 363.12h0M341.45 363.48h0M342.4 363.84h0M343.35 364.2h0M344.3 364.55h0M345.25 364.9h0M346.2 365.24h0M347.15 365.58h0M348.1 365.91h0M349.05 366.23h0M350 366.55h0M350.95 366.85h0M351.9 367.15h0M352.85 367.45h0M353.8 367.73h0M354.75 368h0M355.7 368.26h0M356.65 368.52h0M357.6 368.76h0M358.55 368.99h0M359.5 369.21h0M360.45 369.43h0M361.4 369.64h0M362.35 369.86h0M363.3 370.06h0M364.25 370.27h0M365.2 370.47h0M366.15 370.66h0M367.1 370.85h0M368.05 371.03h0M369 371.21h0M369.95 371.38h0M370.9 371.55h0M371.85 371.71h0M372.8 371.86h0M373.75 372h0M374.7 372.14h0M375.65 372.27h0M376.6 372.4h0M377.55 372.51h0M378.5 372.62h0M379.45 372.73h0M380.4 372.83h0M381.35 372.93h0M382.3 373.03h0M383.25 373.13h0M384.2 373.23h0M385.15 373.32h0M386.1 373.41h0M387.05 373.5h0M388 373.59h0M388.95 373.67h0M389.9 373.75h0M390.85 373.82h0M391.8 373.9h0M392.75 373.96h0M393.7 374.02h0M394.65 374.08h0M395.6 374.13h0M396.55 374.18h0M397.5 374.22h0M398.45 374.26h0M399.4 374.29h0" fill="none" stroke="#7c7c7c" stroke-width="2.7" stroke-linecap="round"/>
<path d="M244.4 266.4 V383 H410.45" fill="none" stroke="#231f20" stroke-width="1.6"/>
<line x1="241.8" y1="372.6" x2="244.4" y2="372.6" stroke="#231f20" stroke-width="1.3"/>
<text transform="translate(237.6 377.5) scale(0.94 1)" font-size="13.8" text-anchor="end">1.0</text>
<line x1="242.9" y1="362.03" x2="244.4" y2="362.03" stroke="#231f20" stroke-width="1.1"/>
<line x1="241.8" y1="351.45" x2="244.4" y2="351.45" stroke="#231f20" stroke-width="1.3"/>
<text transform="translate(237.6 356.35) scale(0.94 1)" font-size="13.8" text-anchor="end">1.5</text>
<line x1="242.9" y1="340.88" x2="244.4" y2="340.88" stroke="#231f20" stroke-width="1.1"/>
<line x1="241.8" y1="330.3" x2="244.4" y2="330.3" stroke="#231f20" stroke-width="1.3"/>
<text transform="translate(237.6 335.2) scale(0.94 1)" font-size="13.8" text-anchor="end">2.0</text>
<line x1="242.9" y1="319.73" x2="244.4" y2="319.73" stroke="#231f20" stroke-width="1.1"/>
<line x1="241.8" y1="309.15" x2="244.4" y2="309.15" stroke="#231f20" stroke-width="1.3"/>
<text transform="translate(237.6 314.05) scale(0.94 1)" font-size="13.8" text-anchor="end">2.5</text>
<line x1="242.9" y1="298.58" x2="244.4" y2="298.58" stroke="#231f20" stroke-width="1.1"/>
<line x1="241.8" y1="288" x2="244.4" y2="288" stroke="#231f20" stroke-width="1.3"/>
<text transform="translate(237.6 292.9) scale(0.94 1)" font-size="13.8" text-anchor="end">3.0</text>
<line x1="242.9" y1="277.43" x2="244.4" y2="277.43" stroke="#231f20" stroke-width="1.1"/>
<line x1="241.8" y1="266.85" x2="244.4" y2="266.85" stroke="#231f20" stroke-width="1.3"/>
<text transform="translate(237.6 271.75) scale(0.94 1)" font-size="13.8" text-anchor="end">3.5</text>
<line x1="251.2" y1="383" x2="251.2" y2="385.4" stroke="#231f20" stroke-width="1.3"/>
<text transform="translate(251.2 402.6) scale(0.94 1)" font-size="13.8" text-anchor="middle">0</text>
<line x1="262.52" y1="383" x2="262.52" y2="384.3" stroke="#231f20" stroke-width="1.1"/>
<line x1="273.85" y1="383" x2="273.85" y2="385.4" stroke="#231f20" stroke-width="1.3"/>
<text transform="translate(273.85 402.6) scale(0.94 1)" font-size="13.8" text-anchor="middle">1</text>
<line x1="285.17" y1="383" x2="285.17" y2="384.3" stroke="#231f20" stroke-width="1.1"/>
<line x1="296.5" y1="383" x2="296.5" y2="385.4" stroke="#231f20" stroke-width="1.3"/>
<text transform="translate(296.5 402.6) scale(0.94 1)" font-size="13.8" text-anchor="middle">2</text>
<line x1="307.82" y1="383" x2="307.82" y2="384.3" stroke="#231f20" stroke-width="1.1"/>
<line x1="319.15" y1="383" x2="319.15" y2="385.4" stroke="#231f20" stroke-width="1.3"/>
<text transform="translate(319.15 402.6) scale(0.94 1)" font-size="13.8" text-anchor="middle">3</text>
<line x1="330.47" y1="383" x2="330.47" y2="384.3" stroke="#231f20" stroke-width="1.1"/>
<line x1="341.8" y1="383" x2="341.8" y2="385.4" stroke="#231f20" stroke-width="1.3"/>
<text transform="translate(341.8 402.6) scale(0.94 1)" font-size="13.8" text-anchor="middle">4</text>
<line x1="353.12" y1="383" x2="353.12" y2="384.3" stroke="#231f20" stroke-width="1.1"/>
<line x1="364.45" y1="383" x2="364.45" y2="385.4" stroke="#231f20" stroke-width="1.3"/>
<text transform="translate(364.45 402.6) scale(0.94 1)" font-size="13.8" text-anchor="middle">5</text>
<line x1="375.77" y1="383" x2="375.77" y2="384.3" stroke="#231f20" stroke-width="1.1"/>
<line x1="387.1" y1="383" x2="387.1" y2="385.4" stroke="#231f20" stroke-width="1.3"/>
<text transform="translate(387.1 402.6) scale(0.94 1)" font-size="13.8" text-anchor="middle">6</text>
<line x1="398.42" y1="383" x2="398.42" y2="384.3" stroke="#231f20" stroke-width="1.1"/>
<line x1="409.75" y1="383" x2="409.75" y2="385.4" stroke="#231f20" stroke-width="1.3"/>
<text transform="translate(409.75 402.6) scale(0.94 1)" font-size="13.8" text-anchor="middle">7</text>
<text x="326.6" y="419.7" font-size="13.1" text-anchor="middle">Time (min)</text>
<text transform="translate(208 326.4) rotate(-90)" font-size="13.3" text-anchor="middle">F\F<tspan font-size="9.4" dy="3.4">0</tspan><tspan dy="-3.4"> GCamP2-mt</tspan></text>
<text x="251" y="335.7" font-size="11">Cisplatin</text>
<line x1="281.2" y1="339.5" x2="281.2" y2="370.2" stroke="#231f20" stroke-width="1.2"/>
<path d="M278.32 366.2 L281.2 370.2 L284.08 366.2" fill="none" stroke="#231f20" stroke-width="1.2" stroke-linejoin="miter"/>
<line x1="250.3" y1="257.5" x2="274.9" y2="257.5" stroke="#7a7a7a" stroke-width="0.7"/>
<rect x="260.7" y="255.3" width="4.4" height="4.4" fill="#141213"/>
<text x="278.7" y="262" font-size="10.8">FTE+EV</text>
<line x1="250.3" y1="274.2" x2="274.9" y2="274.2" stroke="#cfcfcf" stroke-width="0.7"/>
<circle cx="262.9" cy="274.2" r="2.6" fill="#8a8a8a"/>
<text x="278.7" y="278.8" font-size="10.8">FTE+Flag MICU1</text>
</g>
<g id="pe">
<rect x="68.1" y="330.8" width="20.6" height="49.9" fill="#231f20"/>
<line x1="78.4" y1="330.8" x2="78.4" y2="327.8" stroke="#231f20" stroke-width="1.4"/>
<rect x="94.7" y="337.7" width="21" height="43" fill="#231f20"/>
<line x1="105.2" y1="337.7" x2="105.2" y2="330.3" stroke="#231f20" stroke-width="1.4"/>
<rect x="121.8" y="290.2" width="21" height="90.5" fill="#231f20"/>
<line x1="132.3" y1="290.2" x2="132.3" y2="284.8" stroke="#231f20" stroke-width="1.4"/>
<rect x="148.3" y="322.2" width="21" height="58.5" fill="#231f20"/>
<line x1="158.8" y1="322.2" x2="158.8" y2="313.6" stroke="#231f20" stroke-width="1.4"/>
<path d="M64.5 253.85 V380.7 H172.4" fill="none" stroke="#231f20" stroke-width="1.6"/>
<line x1="61.5" y1="380.7" x2="64.5" y2="380.7" stroke="#231f20" stroke-width="1.3"/>
<text x="57.4" y="385.2" font-size="13.1" text-anchor="end">0</text>
<line x1="61.5" y1="355.45" x2="64.5" y2="355.45" stroke="#231f20" stroke-width="1.3"/>
<text x="57.4" y="359.95" font-size="13.1" text-anchor="end">0.5</text>
<line x1="61.5" y1="330.2" x2="64.5" y2="330.2" stroke="#231f20" stroke-width="1.3"/>
<text x="57.4" y="334.7" font-size="13.1" text-anchor="end">1</text>
<line x1="61.5" y1="304.95" x2="64.5" y2="304.95" stroke="#231f20" stroke-width="1.3"/>
<text x="57.4" y="309.45" font-size="13.1" text-anchor="end">1.5</text>
<line x1="61.5" y1="279.7" x2="64.5" y2="279.7" stroke="#231f20" stroke-width="1.3"/>
<text x="57.4" y="284.2" font-size="13.1" text-anchor="end">2</text>
<line x1="61.5" y1="254.45" x2="64.5" y2="254.45" stroke="#231f20" stroke-width="1.3"/>
<text x="57.4" y="258.95" font-size="13.1" text-anchor="end">2.5</text>
<line x1="64.5" y1="380.7" x2="64.5" y2="383.3" stroke="#231f20" stroke-width="1.3"/>
<line x1="91.5" y1="380.7" x2="91.5" y2="383.3" stroke="#231f20" stroke-width="1.3"/>
<line x1="118.8" y1="380.7" x2="118.8" y2="383.3" stroke="#231f20" stroke-width="1.3"/>
<line x1="145.6" y1="380.7" x2="145.6" y2="383.3" stroke="#231f20" stroke-width="1.3"/>
<line x1="172.2" y1="380.7" x2="172.2" y2="383.3" stroke="#231f20" stroke-width="1.3"/>
<text transform="translate(85 394.4) rotate(-45)" font-size="13.1" text-anchor="end">OSE + EV</text>
<text transform="translate(112.6 395.9) rotate(-45)" font-size="13.1" text-anchor="end">OSE + Flag-MICU1</text>
<text transform="translate(137.6 394.4) rotate(-45)" font-size="13.1" text-anchor="end">EV + Cis</text>
<text transform="translate(165 394.4) rotate(-45)" font-size="13.1" text-anchor="end">Flag-MICU1 + Cis</text>
<text x="132.3" y="273.2" font-size="13.4" text-anchor="middle" font-weight="bold">*</text>
<text transform="translate(11.4 317.6) rotate(-90)" font-size="13.1" text-anchor="middle">Fold change</text>
<text transform="translate(27.2 319.8) rotate(-90)" font-size="13.1" text-anchor="middle">[Ca<tspan font-size="8.65" dy="-4.4">2+</tspan><tspan dy="4.4">]m</tspan></text>
</g>
<g id="pg">
<rect x="504.9" y="288.4" width="25.3" height="109" fill="#231f20"/>
<rect x="542.4" y="348.6" width="25.2" height="48.8" fill="#231f20"/>
<line x1="555" y1="348.6" x2="555" y2="345" stroke="#231f20" stroke-width="1.4"/>
<rect x="579.9" y="284" width="25.2" height="113.4" fill="#231f20"/>
<line x1="592.5" y1="284" x2="592.5" y2="273.7" stroke="#231f20" stroke-width="1.4"/>
<rect x="617.1" y="359.3" width="25" height="38.1" fill="#231f20"/>
<line x1="629.6" y1="359.3" x2="629.6" y2="352.4" stroke="#231f20" stroke-width="1.4"/>
<path d="M498.2 265.7 V397.4 H649" fill="none" stroke="#231f20" stroke-width="1.6"/>
<line x1="495.2" y1="397.4" x2="498.2" y2="397.4" stroke="#231f20" stroke-width="1.3"/>
<text x="491.2" y="401.9" font-size="13.1" text-anchor="end">0</text>
<line x1="495.2" y1="375.55" x2="498.2" y2="375.55" stroke="#231f20" stroke-width="1.3"/>
<text x="491.2" y="380.05" font-size="13.1" text-anchor="end">0.2</text>
<line x1="495.2" y1="353.7" x2="498.2" y2="353.7" stroke="#231f20" stroke-width="1.3"/>
<text x="491.2" y="358.2" font-size="13.1" text-anchor="end">0.4</text>
<line x1="495.2" y1="331.85" x2="498.2" y2="331.85" stroke="#231f20" stroke-width="1.3"/>
<text x="491.2" y="336.35" font-size="13.1" text-anchor="end">0.6</text>
<line x1="495.2" y1="310" x2="498.2" y2="310" stroke="#231f20" stroke-width="1.3"/>
<text x="491.2" y="314.5" font-size="13.1" text-anchor="end">0.8</text>
<line x1="495.2" y1="288.15" x2="498.2" y2="288.15" stroke="#231f20" stroke-width="1.3"/>
<text x="491.2" y="292.65" font-size="13.1" text-anchor="end">1</text>
<line x1="495.2" y1="266.3" x2="498.2" y2="266.3" stroke="#231f20" stroke-width="1.3"/>
<text x="491.2" y="270.8" font-size="13.1" text-anchor="end">1.2</text>
<line x1="498.2" y1="397.4" x2="498.2" y2="400" stroke="#231f20" stroke-width="1.3"/>
<line x1="536" y1="397.4" x2="536" y2="400" stroke="#231f20" stroke-width="1.3"/>
<line x1="573.5" y1="397.4" x2="573.5" y2="400" stroke="#231f20" stroke-width="1.3"/>
<line x1="611.3" y1="397.4" x2="611.3" y2="400" stroke="#231f20" stroke-width="1.3"/>
<line x1="648.8" y1="397.4" x2="648.8" y2="400" stroke="#231f20" stroke-width="1.3"/>
<text transform="translate(527.5 410.2) rotate(-45)" font-size="13.1" text-anchor="end">shCTL</text>
<text transform="translate(561.4 411.2) rotate(-45)" font-size="13.1" text-anchor="end">shCTL + Cis</text>
<text transform="translate(598 411.2) rotate(-45)" font-size="13.1" text-anchor="end">shMICU1</text>
<text transform="translate(635.6 410.2) rotate(-45)" font-size="13.1" text-anchor="end">shMICU1 + Cis</text>
<text x="555.2" y="338.6" font-size="13.4" text-anchor="middle" font-weight="bold">*</text>
<text x="630.2" y="347.9" font-size="13.4" text-anchor="middle" font-weight="bold">*</text>
<text transform="translate(445.9 332) rotate(-90)" font-size="13.1" text-anchor="middle">Fold change</text>
<text transform="translate(461.9 332) rotate(-90)" font-size="13.1" text-anchor="middle">[Ca<tspan font-size="8.65" dy="-4.4">2+</tspan><tspan dy="4.4">]ER</tspan></text>
<text x="573.1" y="259.4" font-size="13.1" text-anchor="middle">OV90</text>
</g>
<g id="ph">
<rect x="731.3" y="364.7" width="24.6" height="33.5" fill="#231f20"/>
<line x1="743.6" y1="364.7" x2="743.6" y2="358.9" stroke="#231f20" stroke-width="1.4"/>
<rect x="768.1" y="349.4" width="24" height="48.8" fill="#231f20"/>
<line x1="780.1" y1="349.4" x2="780.1" y2="345.3" stroke="#231f20" stroke-width="1.4"/>
<rect x="803.9" y="357.9" width="24.5" height="40.3" fill="#231f20"/>
<line x1="816.15" y1="357.9" x2="816.15" y2="354.5" stroke="#231f20" stroke-width="1.4"/>
<rect x="840.4" y="346" width="24.5" height="52.2" fill="#231f20"/>
<line x1="852.65" y1="346" x2="852.65" y2="343.2" stroke="#231f20" stroke-width="1.4"/>
<rect x="877.2" y="265.9" width="24.5" height="132.3" fill="#231f20"/>
<line x1="889.45" y1="265.9" x2="889.45" y2="258" stroke="#231f20" stroke-width="1.4"/>
<rect x="913.6" y="338.5" width="24" height="59.7" fill="#231f20"/>
<line x1="925.6" y1="338.5" x2="925.6" y2="326.5" stroke="#231f20" stroke-width="1.4"/>
<path d="M724.5 243.88 V398.2 H946.5" fill="none" stroke="#231f20" stroke-width="1.6"/>
<line x1="721.5" y1="398.2" x2="724.5" y2="398.2" stroke="#231f20" stroke-width="1.3"/>
<text x="718" y="402.7" font-size="13.1" text-anchor="end">0</text>
<line x1="721.5" y1="381.12" x2="724.5" y2="381.12" stroke="#231f20" stroke-width="1.3"/>
<text x="718" y="385.62" font-size="13.1" text-anchor="end">0.5</text>
<line x1="721.5" y1="364.04" x2="724.5" y2="364.04" stroke="#231f20" stroke-width="1.3"/>
<text x="718" y="368.54" font-size="13.1" text-anchor="end">1</text>
<line x1="721.5" y1="346.96" x2="724.5" y2="346.96" stroke="#231f20" stroke-width="1.3"/>
<text x="718" y="351.46" font-size="13.1" text-anchor="end">1.5</text>
<line x1="721.5" y1="329.88" x2="724.5" y2="329.88" stroke="#231f20" stroke-width="1.3"/>
<text x="718" y="334.38" font-size="13.1" text-anchor="end">2</text>
<line x1="721.5" y1="312.8" x2="724.5" y2="312.8" stroke="#231f20" stroke-width="1.3"/>
<text x="718" y="317.3" font-size="13.1" text-anchor="end">2.5</text>
<line x1="721.5" y1="295.72" x2="724.5" y2="295.72" stroke="#231f20" stroke-width="1.3"/>
<text x="718" y="300.22" font-size="13.1" text-anchor="end">3</text>
<line x1="721.5" y1="278.64" x2="724.5" y2="278.64" stroke="#231f20" stroke-width="1.3"/>
<text x="718" y="283.14" font-size="13.1" text-anchor="end">3.5</text>
<line x1="721.5" y1="261.56" x2="724.5" y2="261.56" stroke="#231f20" stroke-width="1.3"/>
<text x="718" y="266.06" font-size="13.1" text-anchor="end">4</text>
<line x1="721.5" y1="244.48" x2="724.5" y2="244.48" stroke="#231f20" stroke-width="1.3"/>
<text x="718" y="248.98" font-size="13.1" text-anchor="end">4.5</text>
<line x1="724.5" y1="398.2" x2="724.5" y2="400.8" stroke="#231f20" stroke-width="1.3"/>
<line x1="761.1" y1="398.2" x2="761.1" y2="400.8" stroke="#231f20" stroke-width="1.3"/>
<line x1="797.5" y1="398.2" x2="797.5" y2="400.8" stroke="#231f20" stroke-width="1.3"/>
<line x1="833.9" y1="398.2" x2="833.9" y2="400.8" stroke="#231f20" stroke-width="1.3"/>
<line x1="870.3" y1="398.2" x2="870.3" y2="400.8" stroke="#231f20" stroke-width="1.3"/>
<line x1="906.7" y1="398.2" x2="906.7" y2="400.8" stroke="#231f20" stroke-width="1.3"/>
<line x1="943.1" y1="398.2" x2="943.1" y2="400.8" stroke="#231f20" stroke-width="1.3"/>
<text transform="translate(750.5 414.6) rotate(-45)" font-size="13.1" text-anchor="end">shCTL</text>
<text transform="translate(787.7 413) rotate(-45)" font-size="13.1" text-anchor="end">shCTL + Cis</text>
<text transform="translate(822.6 414) rotate(-45)" font-size="13.1" text-anchor="end">shCTL + Cis + Pyr6</text>
<text transform="translate(856.4 413.5) rotate(-45)" font-size="13.1" text-anchor="end">shMICU1</text>
<text transform="translate(897.2 413.5) rotate(-45)" font-size="13.1" text-anchor="end">shMICU1 + Cis</text>
<text transform="translate(932.1 413.6) rotate(-45)" font-size="13.1" text-anchor="end">shMICU1 + Cis + Pyr6</text>
<text x="886.4" y="240.6" font-size="13.4" text-anchor="middle" font-weight="bold">*</text>
<text transform="translate(690 325.8) rotate(-90)" font-size="12.2" text-anchor="middle">Fold change [Ca<tspan font-size="8.65" dy="-4.4">2+</tspan><tspan dy="4.4">]m</tspan></text>
<text x="833.9" y="238.6" font-size="13.1" text-anchor="middle">OV90</text>
<path d="M850.6 340.8 V244.4 H891.5 V255" fill="none" stroke="#3c3839" stroke-width="0.9"/>
</g>
</svg></body></html>
